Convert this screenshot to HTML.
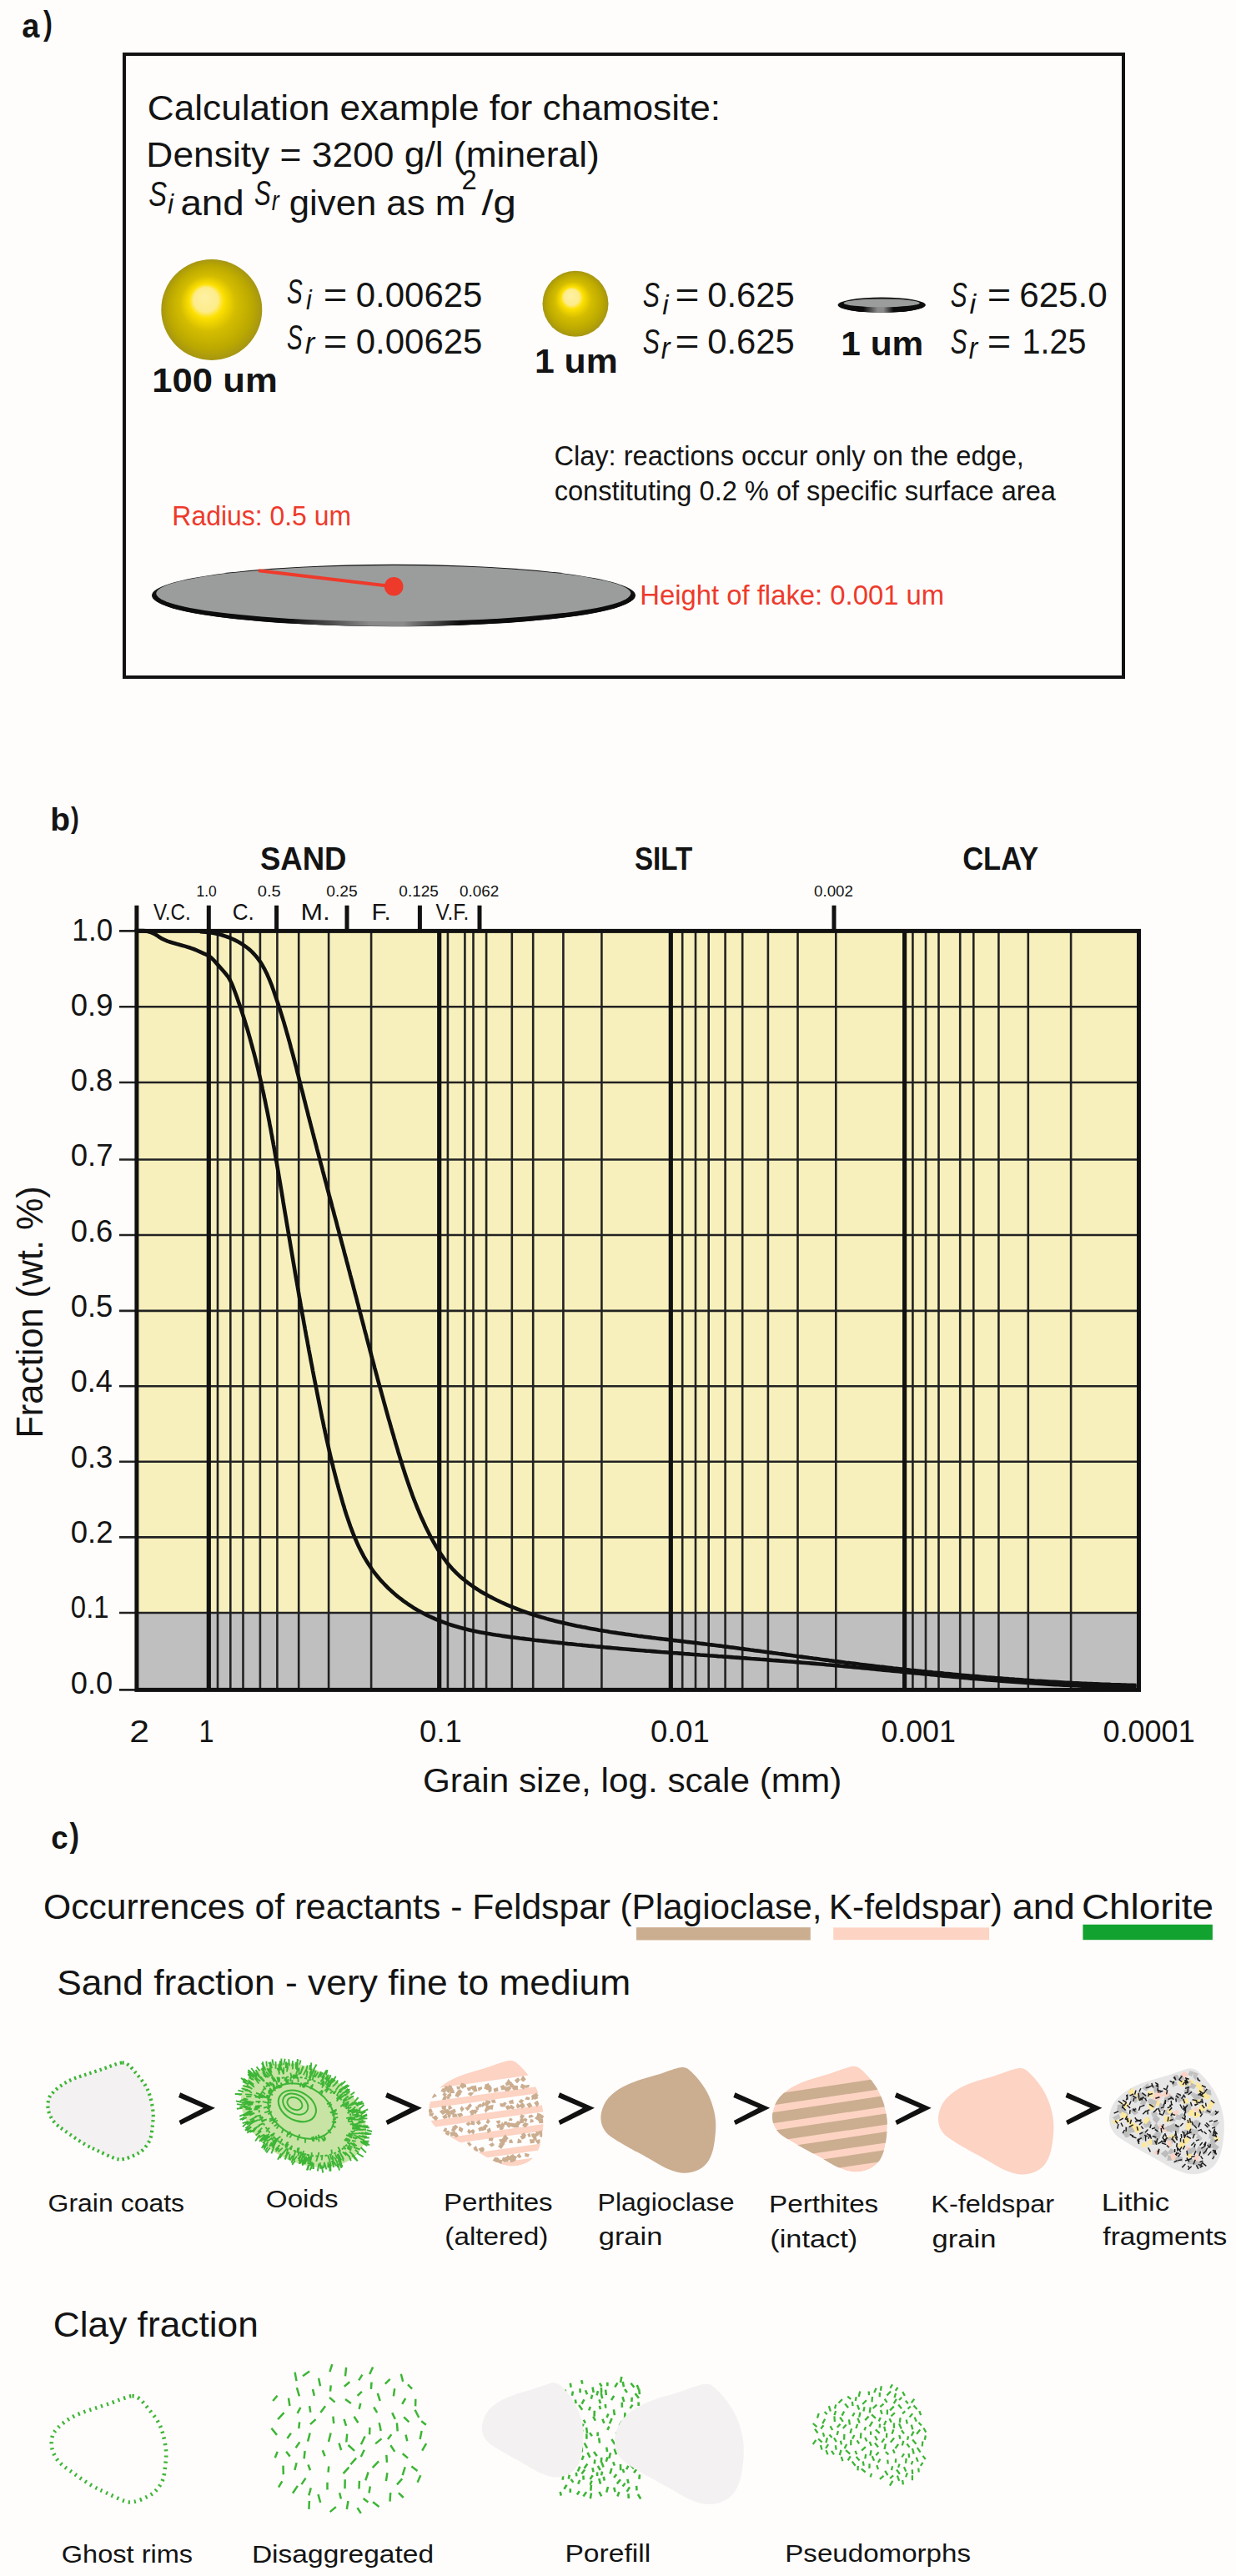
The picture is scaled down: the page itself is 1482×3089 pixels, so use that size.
<!DOCTYPE html>
<html><head><meta charset="utf-8"><title>Figure</title>
<style>html,body{margin:0;padding:0;background:#fefdfb;}svg{display:block;}text{font-family:"Liberation Sans",sans-serif;}</style>
</head><body>
<svg width="1482" height="3089" viewBox="0 0 1482 3089" font-family="Liberation Sans, sans-serif" fill="#141414"><text x="26.23" y="44.52" font-size="40.41" font-weight="bold" textLength="21.13" lengthAdjust="spacingAndGlyphs">a</text>
<text x="51.90" y="42.11" font-size="40.70" font-weight="bold" textLength="10.89" lengthAdjust="spacingAndGlyphs">)</text>
<rect x="149" y="65" width="1198" height="747" fill="none" stroke="#121212" stroke-width="4"/>
<text x="176.82" y="144.00" font-size="43" textLength="687.24" lengthAdjust="spacingAndGlyphs">Calculation example for chamosite:</text>
<text x="175.39" y="200.00" font-size="43" textLength="543.42" lengthAdjust="spacingAndGlyphs">Density = 3200 g/l (mineral)</text>
<text x="178.35" y="247.00" font-size="43" font-style="italic" textLength="21.78" lengthAdjust="spacingAndGlyphs">S</text>
<text x="201.11" y="255.80" font-size="33" font-style="italic" textLength="7.12" lengthAdjust="spacingAndGlyphs">i</text>
<text x="216.41" y="257.70" font-size="43" textLength="76.31" lengthAdjust="spacingAndGlyphs">and</text>
<text x="304.94" y="246.00" font-size="43" font-style="italic" textLength="19.76" lengthAdjust="spacingAndGlyphs">S</text>
<text x="325.81" y="252.00" font-size="34" font-style="italic" textLength="8.87" lengthAdjust="spacingAndGlyphs">r</text>
<text x="346.82" y="257.70" font-size="43" textLength="211.22" lengthAdjust="spacingAndGlyphs">given as m</text>
<text x="553.39" y="226.80" font-size="33" textLength="18.20" lengthAdjust="spacingAndGlyphs">2</text>
<text x="577.50" y="257.70" font-size="43" textLength="41.57" lengthAdjust="spacingAndGlyphs">/g</text>
<defs>
<radialGradient id="sph" cx="0.5" cy="0.5" r="0.5" fx="0.423" fy="0.37">
<stop offset="0" stop-color="#fdf1a4"/><stop offset="0.24" stop-color="#fdec8c"/><stop offset="0.34" stop-color="#fde000"/>
<stop offset="0.55" stop-color="#d4bd00"/><stop offset="0.82" stop-color="#bca900"/><stop offset="1" stop-color="#a69612"/>
</radialGradient>
<linearGradient id="rim" x1="0" x2="1" y1="0" y2="0">
<stop offset="0" stop-color="#0c0c0c"/><stop offset="0.28" stop-color="#0c0c0c"/><stop offset="0.45" stop-color="#8a8a8a"/>
<stop offset="0.52" stop-color="#8a8a8a"/><stop offset="0.64" stop-color="#0c0c0c"/><stop offset="1" stop-color="#0c0c0c"/>
</linearGradient>
</defs>
<circle cx="253.8" cy="371.4" r="60.5" fill="url(#sph)"/>
<circle cx="690" cy="364.2" r="39.5" fill="url(#sph)"/>
<ellipse cx="1057.2" cy="365.7" rx="52.6" ry="9.1" fill="#111"/>
<ellipse cx="1057.2" cy="367.2" rx="50" ry="7.5" fill="url(#rim)"/>
<ellipse cx="1057.2" cy="363.4" rx="45.6" ry="4.9" fill="#9b9d9c"/>
<text x="343.89" y="364.00" font-size="43" font-style="italic" textLength="18.70" lengthAdjust="spacingAndGlyphs">S</text>
<text x="366.96" y="370.60" font-size="34" font-style="italic" textLength="6.72" lengthAdjust="spacingAndGlyphs">i</text>
<text x="387.67" y="367.50" font-size="42" textLength="28.60" lengthAdjust="spacingAndGlyphs">=</text>
<text x="426.78" y="367.70" font-size="42" textLength="151.62" lengthAdjust="spacingAndGlyphs">0.00625</text>
<text x="343.89" y="419.00" font-size="43" font-style="italic" textLength="18.70" lengthAdjust="spacingAndGlyphs">S</text>
<text x="365.80" y="424.20" font-size="36" font-style="italic" textLength="11.49" lengthAdjust="spacingAndGlyphs">r</text>
<text x="387.67" y="423.50" font-size="42" textLength="28.60" lengthAdjust="spacingAndGlyphs">=</text>
<text x="426.78" y="424.00" font-size="42" textLength="151.62" lengthAdjust="spacingAndGlyphs">0.00625</text>
<text x="182.27" y="470.00" font-size="40" font-weight="bold" textLength="150.43" lengthAdjust="spacingAndGlyphs">100 um</text>
<text x="770.82" y="368.00" font-size="43" font-style="italic" textLength="20.18" lengthAdjust="spacingAndGlyphs">S</text>
<text x="794.32" y="376.60" font-size="34" font-style="italic" textLength="7.29" lengthAdjust="spacingAndGlyphs">i</text>
<text x="809.44" y="367.50" font-size="42" textLength="28.95" lengthAdjust="spacingAndGlyphs">=</text>
<text x="848.18" y="368.00" font-size="42" textLength="104.54" lengthAdjust="spacingAndGlyphs">0.625</text>
<text x="770.82" y="424.00" font-size="43" font-style="italic" textLength="20.18" lengthAdjust="spacingAndGlyphs">S</text>
<text x="792.64" y="429.70" font-size="36" font-style="italic" textLength="10.73" lengthAdjust="spacingAndGlyphs">r</text>
<text x="809.44" y="424.00" font-size="42" textLength="28.95" lengthAdjust="spacingAndGlyphs">=</text>
<text x="848.18" y="424.20" font-size="42" textLength="104.54" lengthAdjust="spacingAndGlyphs">0.625</text>
<text x="640.96" y="446.50" font-size="41" font-weight="bold" textLength="99.71" lengthAdjust="spacingAndGlyphs">1 um</text>
<text x="1139.63" y="368.00" font-size="43" font-style="italic" textLength="19.86" lengthAdjust="spacingAndGlyphs">S</text>
<text x="1162.49" y="376.00" font-size="34" font-style="italic" textLength="7.67" lengthAdjust="spacingAndGlyphs">i</text>
<text x="1183.68" y="368.00" font-size="42" textLength="28.48" lengthAdjust="spacingAndGlyphs">=</text>
<text x="1222.16" y="368.00" font-size="42" textLength="105.65" lengthAdjust="spacingAndGlyphs">625.0</text>
<text x="1139.63" y="423.60" font-size="43" font-style="italic" textLength="19.86" lengthAdjust="spacingAndGlyphs">S</text>
<text x="1161.76" y="429.60" font-size="36" font-style="italic" textLength="10.45" lengthAdjust="spacingAndGlyphs">r</text>
<text x="1183.68" y="424.00" font-size="42" textLength="28.48" lengthAdjust="spacingAndGlyphs">=</text>
<text x="1225.57" y="424.00" font-size="42" textLength="76.78" lengthAdjust="spacingAndGlyphs">1.25</text>
<text x="1008.29" y="426.00" font-size="41" font-weight="bold" textLength="98.97" lengthAdjust="spacingAndGlyphs">1 um</text>
<text x="664.40" y="558.00" font-size="33" textLength="563.44" lengthAdjust="spacingAndGlyphs">Clay: reactions occur only on the edge,</text>
<text x="664.64" y="600.00" font-size="33" textLength="601.35" lengthAdjust="spacingAndGlyphs">constituting 0.2 % of specific surface area</text>
<text x="206.34" y="630.00" font-size="33" fill="#ee3a2b" textLength="214.66" lengthAdjust="spacingAndGlyphs">Radius: 0.5 um</text>
<text x="767.27" y="725.00" font-size="33" fill="#ee3a2b" textLength="364.86" lengthAdjust="spacingAndGlyphs">Height of flake: 0.001 um</text>
<ellipse cx="472" cy="714" rx="290" ry="37.2" fill="#111"/>
<ellipse cx="472" cy="716" rx="287" ry="35" fill="url(#rim)"/>
<ellipse cx="471.8" cy="711.6" rx="284.5" ry="33.6" fill="#9b9d9c"/>
<line x1="310" y1="684.3" x2="471" y2="703.3" stroke="#ee3a2b" stroke-width="4"/>
<circle cx="472.2" cy="703.3" r="11.3" fill="#ee3a2b"/>
<text x="60.34" y="995.53" font-size="38.94" font-weight="bold" textLength="23.80" lengthAdjust="spacingAndGlyphs">b</text>
<text x="85.11" y="993.38" font-size="35.97" font-weight="bold" textLength="9.71" lengthAdjust="spacingAndGlyphs">)</text>
<rect x="163.9" y="1116.4" width="1201.6" height="817.5999999999999" fill="#f7f0bc"/>
<rect x="163.9" y="1934" width="1201.6" height="92.40000000000009" fill="#bfbfbf"/>
<path d="M261,1116.4V2026.4 M276.3,1116.4V2026.4 M291.5,1116.4V2026.4 M311.9,1116.4V2026.4 M332.4,1116.4V2026.4 M358.2,1116.4V2026.4 M394.1,1116.4V2026.4 M445.1,1116.4V2026.4 M536.9,1116.4V2026.4 M557.4,1116.4V2026.4 M567.5,1116.4V2026.4 M583.1,1116.4V2026.4 M613.8,1116.4V2026.4 M639.2,1116.4V2026.4 M675.4,1116.4V2026.4 M721.4,1116.4V2026.4 M818.2,1116.4V2026.4 M834,1116.4V2026.4 M849.7,1116.4V2026.4 M869.6,1116.4V2026.4 M890.2,1116.4V2026.4 M920.9,1116.4V2026.4 M956.5,1116.4V2026.4 M1002.3,1116.4V2026.4 M1094.4,1116.4V2026.4 M1110,1116.4V2026.4 M1125.5,1116.4V2026.4 M1151.2,1116.4V2026.4 M1167.3,1116.4V2026.4 M1197.4,1116.4V2026.4 M1232.8,1116.4V2026.4 M1284.1,1116.4V2026.4 M163.9,1934.0H1365.5 M163.9,1843.4H1365.5 M163.9,1752.8H1365.5 M163.9,1662.3H1365.5 M163.9,1571.9H1365.5 M163.9,1481.0H1365.5 M163.9,1390.5H1365.5 M163.9,1298.0H1365.5 M163.9,1207.3H1365.5 M143,2026.4H163.9 M143,1934.0H163.9 M143,1843.4H163.9 M143,1752.8H163.9 M143,1662.3H163.9 M143,1571.9H163.9 M143,1481.0H163.9 M143,1390.5H163.9 M143,1298.0H163.9 M143,1207.3H163.9 M143,1116.4H163.9" stroke="#222" stroke-width="2.6" fill="none"/>
<path d="M250.3,1116.4V2026.4 M526.7,1116.4V2026.4 M804.3,1116.4V2026.4 M1084.6,1116.4V2026.4" stroke="#111" stroke-width="5.2" fill="none"/>
<path d="M163.9,1085.8V1116.4 M250.3,1085.8V1116.4 M331.6,1085.8V1116.4 M416,1085.8V1116.4 M503.4,1085.8V1116.4 M575,1085.8V1116.4 M1000,1085.8V1116.4" stroke="#111" stroke-width="5" fill="none"/>
<rect x="163.9" y="1116.4" width="1201.6" height="910.0" fill="none" stroke="#111" stroke-width="5"/>
<path d="M164.0,1116.4 L167.6,1116.0 L171.2,1116.0 L174.9,1116.4 L178.4,1117.2 L181.8,1118.3 L185.1,1119.8 L188.2,1121.7 L191.2,1123.8 L194.3,1125.7 L197.5,1127.2 L200.9,1128.6 L204.3,1129.7 L207.8,1130.8 L211.3,1131.8 L214.8,1132.7 L218.3,1133.7 L221.7,1134.6 L225.2,1135.7 L228.6,1136.8 L232.0,1138.0 L235.4,1139.4 L238.7,1140.8 L242.0,1142.3 L245.3,1143.8 L248.6,1145.4 L251.7,1147.3 L254.4,1149.6 L257.0,1152.2 L259.4,1154.9 L261.8,1157.6 L264.2,1160.3 L266.6,1163.0 L269.0,1165.8 L271.3,1168.5 L273.5,1171.4 L275.4,1174.5 L277.0,1177.7 L278.5,1181.0 L279.8,1184.4 L281.1,1187.8 L282.4,1191.2 L283.6,1194.6 L284.8,1198.0 L286.0,1201.4 L287.2,1204.8 L288.4,1208.3 L289.5,1211.7 L290.6,1215.1 L291.7,1218.5 L292.8,1222.0 L293.9,1225.4 L294.9,1228.8 L296.0,1232.3 L297.0,1235.7 L298.0,1239.2 L299.0,1242.7 L300.0,1246.1 L300.9,1249.6 L301.9,1253.1 L302.8,1256.6 L303.7,1260.0 L304.7,1263.5 L305.6,1267.0 L306.5,1270.5 L307.3,1274.0 L308.2,1277.5 L309.1,1281.0 L309.9,1284.5 L310.7,1288.1 L311.6,1291.6 L312.4,1295.1 L313.2,1298.6 L314.0,1302.1 L314.7,1305.7 L315.5,1309.2 L316.3,1312.7 L317.0,1316.3 L317.8,1319.8 L318.5,1323.4 L319.2,1326.9 L320.0,1330.5 L320.7,1334.0 L321.4,1337.6 L322.1,1341.1 L322.8,1344.7 L323.4,1348.2 L324.1,1351.8 L324.8,1355.3 L325.4,1358.9 L326.1,1362.4 L326.7,1366.0 L327.4,1369.6 L328.0,1373.1 L328.7,1376.7 L329.3,1380.3 L329.9,1383.8 L330.5,1387.4 L331.1,1391.0 L331.8,1394.5 L332.4,1398.1 L333.0,1401.7 L333.6,1405.2 L334.2,1408.8 L334.8,1412.4 L335.4,1415.9 L336.0,1419.5 L336.6,1423.1 L337.2,1426.6 L337.8,1430.2 L338.4,1433.8 L339.0,1437.3 L339.5,1440.9 L340.1,1444.4 L340.7,1448.0 L341.3,1451.6 L341.9,1455.1 L342.5,1458.7 L343.1,1462.2 L343.7,1465.8 L344.3,1469.4 L344.9,1472.9 L345.5,1476.5 L346.1,1480.0 L346.7,1483.6 L347.3,1487.1 L347.9,1490.7 L348.5,1494.3 L349.1,1497.8 L349.7,1501.4 L350.3,1504.9 L350.9,1508.5 L351.5,1512.1 L352.1,1515.6 L352.7,1519.2 L353.3,1522.7 L353.9,1526.3 L354.5,1529.9 L355.1,1533.4 L355.8,1537.0 L356.4,1540.5 L357.0,1544.1 L357.6,1547.7 L358.2,1551.2 L358.8,1554.8 L359.5,1558.4 L360.1,1561.9 L360.7,1565.5 L361.4,1569.1 L362.0,1572.6 L362.6,1576.2 L363.3,1579.8 L363.9,1583.4 L364.5,1586.9 L365.2,1590.5 L365.8,1594.1 L366.5,1597.7 L367.1,1601.2 L367.8,1604.8 L368.5,1608.4 L369.1,1611.9 L369.8,1615.5 L370.4,1619.1 L371.1,1622.7 L371.8,1626.2 L372.4,1629.8 L373.1,1633.4 L373.8,1636.9 L374.5,1640.5 L375.1,1644.1 L375.8,1647.6 L376.5,1651.2 L377.2,1654.7 L377.9,1658.3 L378.6,1661.8 L379.3,1665.4 L380.0,1668.9 L380.7,1672.5 L381.4,1676.0 L382.1,1679.5 L382.8,1683.1 L383.5,1686.6 L384.2,1690.1 L384.9,1693.6 L385.6,1697.2 L386.3,1700.7 L387.1,1704.2 L387.8,1707.7 L388.5,1711.2 L389.3,1714.7 L390.0,1718.2 L390.8,1721.7 L391.5,1725.2 L392.3,1728.7 L393.1,1732.2 L393.9,1735.7 L394.7,1739.2 L395.5,1742.7 L396.3,1746.2 L397.1,1749.6 L397.9,1753.1 L398.8,1756.6 L399.6,1760.1 L400.5,1763.6 L401.4,1767.1 L402.3,1770.6 L403.2,1774.1 L404.1,1777.6 L405.1,1781.1 L406.0,1784.6 L407.0,1788.1 L408.0,1791.6 L409.0,1795.1 L410.0,1798.7 L411.0,1802.2 L412.1,1805.7 L413.1,1809.2 L414.2,1812.7 L415.3,1816.2 L416.5,1819.7 L417.7,1823.2 L418.9,1826.7 L420.1,1830.2 L421.4,1833.6 L422.7,1837.1 L424.0,1840.5 L425.4,1843.9 L426.9,1847.2 L428.3,1850.6 L429.9,1853.9 L431.5,1857.2 L433.1,1860.4 L434.8,1863.6 L436.5,1866.8 L438.3,1869.9 L440.2,1873.0 L442.1,1876.0 L444.1,1879.0 L446.1,1882.0 L448.2,1884.9 L450.4,1887.7 L452.7,1890.5 L455.0,1893.2 L457.3,1895.9 L459.8,1898.5 L462.3,1901.1 L464.8,1903.7 L467.4,1906.1 L470.0,1908.5 L472.7,1910.9 L475.4,1913.2 L478.2,1915.5 L481.1,1917.7 L483.9,1919.8 L486.9,1921.9 L489.8,1924.0 L492.8,1925.9 L495.8,1927.9 L498.9,1929.7 L502.0,1931.6 L505.2,1933.3 L508.3,1935.0 L511.5,1936.6 L514.8,1938.2 L518.0,1939.7 L521.3,1941.2 L524.6,1942.6 L528.0,1943.9 L531.3,1945.2 L534.7,1946.4 L538.1,1947.6 L541.5,1948.7 L544.9,1949.8 L548.4,1950.8 L551.8,1951.8 L555.3,1952.7 L558.8,1953.6 L562.3,1954.4 L565.8,1955.2 L569.4,1956.0 L572.9,1956.7 L576.5,1957.4 L580.0,1958.1 L583.6,1958.7 L587.2,1959.3 L590.8,1959.9 L594.4,1960.5 L598.0,1961.0 L601.6,1961.6 L605.2,1962.1 L608.8,1962.6 L612.4,1963.1 L616.0,1963.5 L619.7,1964.0 L623.3,1964.5 L626.9,1964.9 L630.5,1965.4 L634.1,1965.8 L637.7,1966.2 L641.4,1966.7 L645.0,1967.1 L648.6,1967.5 L652.2,1967.9 L655.8,1968.3 L659.4,1968.7 L663.0,1969.1 L666.6,1969.5 L670.2,1969.9 L673.9,1970.3 L677.5,1970.7 L681.1,1971.1 L684.7,1971.4 L688.3,1971.8 L691.9,1972.2 L695.5,1972.5 L699.1,1972.9 L702.7,1973.2 L706.3,1973.6 L709.9,1973.9 L713.6,1974.3 L717.2,1974.6 L720.8,1974.9 L724.4,1975.3 L728.0,1975.6 L731.6,1975.9 L735.2,1976.2 L738.8,1976.5 L742.4,1976.9 L746.0,1977.2 L749.6,1977.5 L753.2,1977.8 L756.8,1978.1 L760.4,1978.4 L764.0,1978.7 L767.6,1979.0 L771.2,1979.3 L774.8,1979.6 L778.4,1979.8 L782.0,1980.1 L785.6,1980.4 L789.3,1980.7 L792.9,1981.0 L796.5,1981.2 L800.1,1981.5 L803.7,1981.8 L807.3,1982.1 L810.9,1982.3 L814.5,1982.6 L818.1,1982.9 L821.7,1983.2 L825.3,1983.4 L828.9,1983.7 L832.5,1984.0 L836.1,1984.2 L839.7,1984.5 L843.3,1984.7 L846.9,1985.0 L850.5,1985.3 L854.1,1985.5 L857.7,1985.8 L861.3,1986.1 L864.9,1986.3 L868.5,1986.6 L872.1,1986.8 L875.7,1987.1 L879.3,1987.4 L882.9,1987.6 L886.5,1987.9 L890.1,1988.2 L893.7,1988.4 L897.3,1988.7 L900.9,1989.0 L904.5,1989.2 L908.1,1989.5 L911.7,1989.8 L915.3,1990.0 L918.9,1990.3 L922.5,1990.6 L926.1,1990.9 L929.7,1991.1 L933.3,1991.4 L936.9,1991.7 L940.5,1992.0 L944.1,1992.3 L947.7,1992.5 L951.3,1992.8 L954.9,1993.1 L958.5,1993.4 L962.1,1993.7 L965.7,1994.0 L969.3,1994.3 L972.9,1994.6 L976.5,1994.9 L980.1,1995.2 L983.7,1995.5 L987.3,1995.8 L990.9,1996.2 L994.5,1996.5 L998.1,1996.8 L1001.7,1997.1 L1005.3,1997.4 L1008.9,1997.8 L1012.5,1998.1 L1016.1,1998.4 L1019.7,1998.8 L1023.3,1999.1 L1026.9,1999.5 L1030.5,1999.8 L1034.2,2000.1 L1037.8,2000.5 L1041.4,2000.8 L1045.0,2001.2 L1048.6,2001.5 L1052.2,2001.9 L1055.8,2002.2 L1059.4,2002.6 L1063.0,2002.9 L1066.6,2003.3 L1070.2,2003.6 L1073.8,2004.0 L1077.4,2004.3 L1081.0,2004.7 L1084.6,2005.0 L1088.2,2005.4 L1091.8,2005.7 L1095.4,2006.1 L1099.0,2006.4 L1102.7,2006.8 L1106.3,2007.1 L1109.9,2007.5 L1113.5,2007.8 L1117.1,2008.2 L1120.7,2008.5 L1124.3,2008.9 L1127.9,2009.2 L1131.5,2009.6 L1135.1,2009.9 L1138.7,2010.2 L1142.3,2010.6 L1145.9,2010.9 L1149.5,2011.2 L1153.2,2011.6 L1156.8,2011.9 L1160.4,2012.2 L1164.0,2012.6 L1167.6,2012.9 L1171.2,2013.2 L1174.8,2013.5 L1178.4,2013.8 L1182.0,2014.1 L1185.6,2014.4 L1189.2,2014.7 L1192.8,2015.0 L1196.5,2015.3 L1200.1,2015.6 L1203.7,2015.9 L1207.3,2016.2 L1210.9,2016.5 L1214.5,2016.7 L1218.1,2017.0 L1221.7,2017.3 L1225.3,2017.5 L1228.9,2017.8 L1232.5,2018.0 L1236.2,2018.3 L1239.8,2018.5 L1243.4,2018.8 L1247.0,2019.0 L1250.6,2019.2 L1254.2,2019.4 L1257.8,2019.7 L1261.4,2019.9 L1265.0,2020.1 L1268.6,2020.3 L1272.3,2020.5 L1275.9,2020.6 L1279.5,2020.8 L1283.1,2021.0 L1286.7,2021.2 L1290.3,2021.3 L1293.9,2021.5 L1297.5,2021.6 L1301.1,2021.8 L1304.7,2021.9 L1308.4,2022.0 L1312.0,2022.1 L1315.6,2022.2 L1319.2,2022.3 L1322.8,2022.4 L1326.4,2022.5 L1330.0,2022.6 L1333.6,2022.7 L1337.2,2022.7 L1340.9,2022.8 L1344.5,2022.8 L1348.1,2022.9 L1351.7,2022.9 L1355.3,2022.9 L1358.9,2022.9 L1362.5,2022.9" stroke="#111" stroke-width="4.6" fill="none" stroke-linejoin="round"/>
<path d="M239.8,1117.3 L243.2,1117.4 L246.5,1117.7 L249.9,1118.0 L253.3,1118.5 L256.6,1119.1 L260.0,1119.8 L263.4,1120.6 L266.7,1121.5 L270.0,1122.6 L273.3,1123.7 L276.5,1125.0 L279.7,1126.4 L282.8,1127.9 L285.9,1129.5 L288.8,1131.2 L291.7,1133.0 L294.5,1135.0 L297.1,1137.0 L299.7,1139.1 L302.1,1141.4 L304.4,1143.8 L306.6,1146.2 L308.7,1148.8 L310.6,1151.4 L312.5,1154.1 L314.3,1156.9 L315.9,1159.8 L317.5,1162.7 L319.0,1165.7 L320.5,1168.8 L321.8,1171.8 L323.2,1175.0 L324.4,1178.1 L325.7,1181.3 L326.8,1184.5 L328.0,1187.7 L329.1,1191.0 L330.2,1194.2 L331.3,1197.4 L332.4,1200.7 L333.5,1203.9 L334.5,1207.2 L335.6,1210.4 L336.6,1213.7 L337.6,1216.9 L338.6,1220.2 L339.6,1223.4 L340.6,1226.7 L341.5,1229.9 L342.5,1233.2 L343.4,1236.5 L344.3,1239.7 L345.3,1243.0 L346.2,1246.3 L347.1,1249.5 L348.0,1252.8 L348.8,1256.1 L349.7,1259.3 L350.6,1262.6 L351.5,1265.9 L352.3,1269.2 L353.2,1272.4 L354.0,1275.7 L354.9,1279.0 L355.7,1282.3 L356.5,1285.6 L357.4,1288.8 L358.2,1292.1 L359.0,1295.4 L359.9,1298.7 L360.7,1302.0 L361.5,1305.3 L362.4,1308.5 L363.2,1311.8 L364.0,1315.1 L364.8,1318.4 L365.7,1321.7 L366.5,1325.0 L367.3,1328.2 L368.2,1331.5 L369.0,1334.8 L369.8,1338.1 L370.7,1341.4 L371.5,1344.7 L372.4,1348.0 L373.2,1351.2 L374.1,1354.5 L374.9,1357.8 L375.8,1361.1 L376.6,1364.4 L377.5,1367.7 L378.3,1370.9 L379.2,1374.2 L380.0,1377.5 L380.9,1380.8 L381.8,1384.1 L382.6,1387.4 L383.5,1390.7 L384.3,1393.9 L385.2,1397.2 L386.1,1400.5 L386.9,1403.8 L387.8,1407.1 L388.7,1410.4 L389.5,1413.7 L390.4,1416.9 L391.3,1420.2 L392.1,1423.5 L393.0,1426.8 L393.9,1430.1 L394.7,1433.4 L395.6,1436.6 L396.5,1439.9 L397.4,1443.2 L398.2,1446.5 L399.1,1449.8 L400.0,1453.1 L400.8,1456.4 L401.7,1459.6 L402.6,1462.9 L403.5,1466.2 L404.3,1469.5 L405.2,1472.8 L406.1,1476.0 L406.9,1479.3 L407.8,1482.6 L408.7,1485.9 L409.5,1489.2 L410.4,1492.4 L411.3,1495.7 L412.2,1499.0 L413.0,1502.3 L413.9,1505.6 L414.8,1508.8 L415.6,1512.1 L416.5,1515.4 L417.4,1518.7 L418.2,1522.0 L419.1,1525.2 L419.9,1528.5 L420.8,1531.8 L421.7,1535.1 L422.5,1538.3 L423.4,1541.6 L424.2,1544.9 L425.1,1548.2 L425.9,1551.4 L426.8,1554.7 L427.7,1558.0 L428.5,1561.3 L429.4,1564.5 L430.2,1567.8 L431.1,1571.1 L431.9,1574.4 L432.8,1577.6 L433.6,1580.9 L434.5,1584.2 L435.3,1587.4 L436.2,1590.7 L437.0,1594.0 L437.9,1597.3 L438.8,1600.5 L439.6,1603.8 L440.5,1607.1 L441.3,1610.3 L442.2,1613.6 L443.1,1616.9 L443.9,1620.1 L444.8,1623.4 L445.6,1626.7 L446.5,1630.0 L447.4,1633.2 L448.3,1636.5 L449.1,1639.8 L450.0,1643.0 L450.9,1646.3 L451.8,1649.6 L452.6,1652.8 L453.5,1656.1 L454.4,1659.4 L455.3,1662.7 L456.2,1665.9 L457.1,1669.2 L458.0,1672.5 L458.9,1675.7 L459.8,1679.0 L460.7,1682.3 L461.6,1685.5 L462.5,1688.8 L463.4,1692.1 L464.3,1695.4 L465.2,1698.6 L466.1,1701.9 L467.1,1705.2 L468.0,1708.4 L468.9,1711.7 L469.9,1715.0 L470.8,1718.3 L471.8,1721.5 L472.7,1724.8 L473.7,1728.1 L474.6,1731.3 L475.6,1734.6 L476.6,1737.9 L477.5,1741.2 L478.5,1744.4 L479.5,1747.7 L480.5,1751.0 L481.5,1754.2 L482.5,1757.5 L483.5,1760.7 L484.6,1764.0 L485.6,1767.2 L486.7,1770.5 L487.8,1773.7 L488.9,1776.9 L490.0,1780.2 L491.1,1783.4 L492.2,1786.6 L493.4,1789.8 L494.5,1793.0 L495.7,1796.2 L496.9,1799.3 L498.2,1802.5 L499.4,1805.7 L500.7,1808.8 L502.0,1811.9 L503.3,1815.1 L504.6,1818.2 L506.0,1821.3 L507.4,1824.3 L508.8,1827.4 L510.2,1830.5 L511.7,1833.5 L513.2,1836.5 L514.7,1839.5 L516.2,1842.5 L517.8,1845.5 L519.4,1848.4 L521.1,1851.4 L522.8,1854.3 L524.5,1857.2 L526.3,1860.0 L528.1,1862.8 L530.0,1865.6 L531.9,1868.3 L533.9,1871.0 L535.9,1873.7 L538.0,1876.3 L540.2,1878.8 L542.4,1881.3 L544.7,1883.7 L547.1,1886.1 L549.5,1888.4 L552.0,1890.7 L554.6,1892.9 L557.2,1895.0 L559.9,1897.1 L562.6,1899.2 L565.4,1901.2 L568.2,1903.1 L571.1,1905.0 L574.0,1906.9 L576.9,1908.7 L579.9,1910.4 L582.9,1912.1 L585.9,1913.8 L589.0,1915.4 L592.1,1917.0 L595.1,1918.5 L598.3,1920.0 L601.4,1921.5 L604.5,1922.9 L607.7,1924.3 L610.8,1925.6 L614.0,1926.9 L617.1,1928.2 L620.3,1929.5 L623.5,1930.7 L626.7,1931.8 L629.8,1933.0 L633.0,1934.1 L636.2,1935.2 L639.5,1936.2 L642.7,1937.2 L645.9,1938.2 L649.1,1939.2 L652.4,1940.1 L655.6,1941.1 L658.8,1942.0 L662.1,1942.8 L665.4,1943.7 L668.6,1944.5 L671.9,1945.3 L675.2,1946.1 L678.4,1946.8 L681.7,1947.6 L685.0,1948.3 L688.3,1949.0 L691.6,1949.7 L694.9,1950.3 L698.2,1951.0 L701.5,1951.6 L704.8,1952.3 L708.1,1952.9 L711.5,1953.5 L714.8,1954.1 L718.1,1954.7 L721.5,1955.2 L724.8,1955.8 L728.1,1956.3 L731.5,1956.9 L734.8,1957.4 L738.2,1957.9 L741.5,1958.4 L744.9,1958.9 L748.3,1959.4 L751.6,1959.9 L755.0,1960.3 L758.3,1960.8 L761.7,1961.2 L765.1,1961.7 L768.5,1962.1 L771.8,1962.6 L775.2,1963.0 L778.6,1963.4 L782.0,1963.9 L785.3,1964.3 L788.7,1964.7 L792.1,1965.1 L795.5,1965.5 L798.9,1965.9 L802.2,1966.3 L805.6,1966.7 L809.0,1967.1 L812.4,1967.5 L815.8,1967.9 L819.2,1968.3 L822.5,1968.7 L825.9,1969.1 L829.3,1969.5 L832.7,1969.9 L836.1,1970.3 L839.4,1970.7 L842.8,1971.1 L846.2,1971.5 L849.6,1972.0 L852.9,1972.4 L856.3,1972.8 L859.7,1973.2 L863.1,1973.6 L866.4,1974.1 L869.8,1974.5 L873.2,1974.9 L876.5,1975.4 L879.9,1975.8 L883.3,1976.2 L886.6,1976.7 L890.0,1977.1 L893.4,1977.6 L896.7,1978.0 L900.1,1978.5 L903.5,1978.9 L906.8,1979.4 L910.2,1979.8 L913.5,1980.3 L916.9,1980.7 L920.3,1981.2 L923.6,1981.6 L927.0,1982.1 L930.3,1982.5 L933.7,1983.0 L937.0,1983.4 L940.4,1983.9 L943.8,1984.4 L947.1,1984.8 L950.5,1985.3 L953.8,1985.7 L957.2,1986.2 L960.5,1986.6 L963.9,1987.1 L967.3,1987.5 L970.6,1988.0 L974.0,1988.4 L977.3,1988.9 L980.7,1989.3 L984.0,1989.8 L987.4,1990.2 L990.8,1990.6 L994.1,1991.1 L997.5,1991.5 L1000.8,1992.0 L1004.2,1992.4 L1007.6,1992.8 L1010.9,1993.2 L1014.3,1993.7 L1017.7,1994.1 L1021.0,1994.5 L1024.4,1994.9 L1027.7,1995.3 L1031.1,1995.8 L1034.5,1996.2 L1037.8,1996.6 L1041.2,1997.0 L1044.6,1997.4 L1048.0,1997.8 L1051.3,1998.2 L1054.7,1998.6 L1058.1,1998.9 L1061.4,1999.3 L1064.8,1999.7 L1068.2,2000.1 L1071.5,2000.5 L1074.9,2000.8 L1078.3,2001.2 L1081.7,2001.6 L1085.0,2002.0 L1088.4,2002.3 L1091.8,2002.7 L1095.2,2003.0 L1098.5,2003.4 L1101.9,2003.7 L1105.3,2004.1 L1108.7,2004.4 L1112.0,2004.8 L1115.4,2005.1 L1118.8,2005.5 L1122.2,2005.8 L1125.6,2006.1 L1128.9,2006.4 L1132.3,2006.8 L1135.7,2007.1 L1139.1,2007.4 L1142.5,2007.7 L1145.8,2008.0 L1149.2,2008.4 L1152.6,2008.7 L1156.0,2009.0 L1159.4,2009.3 L1162.7,2009.6 L1166.1,2009.8 L1169.5,2010.1 L1172.9,2010.4 L1176.3,2010.7 L1179.7,2011.0 L1183.0,2011.3 L1186.4,2011.5 L1189.8,2011.8 L1193.2,2012.1 L1196.6,2012.3 L1200.0,2012.6 L1203.4,2012.9 L1206.7,2013.1 L1210.1,2013.4 L1213.5,2013.6 L1216.9,2013.9 L1220.3,2014.1 L1223.7,2014.3 L1227.1,2014.6 L1230.4,2014.8 L1233.8,2015.0 L1237.2,2015.2 L1240.6,2015.5 L1244.0,2015.7 L1247.4,2015.9 L1250.8,2016.1 L1254.2,2016.3 L1257.5,2016.5 L1260.9,2016.7 L1264.3,2016.9 L1267.7,2017.1 L1271.1,2017.3 L1274.5,2017.5 L1277.9,2017.7 L1281.3,2017.8 L1284.6,2018.0 L1288.0,2018.2 L1291.4,2018.3 L1294.8,2018.5 L1298.2,2018.7 L1301.6,2018.8 L1305.0,2019.0 L1308.4,2019.1 L1311.7,2019.3 L1315.1,2019.4 L1318.5,2019.5 L1321.9,2019.7 L1325.3,2019.8 L1328.7,2019.9 L1332.1,2020.1 L1335.5,2020.2 L1338.9,2020.3 L1342.2,2020.4 L1345.6,2020.5 L1349.0,2020.6 L1352.4,2020.7 L1355.8,2020.8 L1359.2,2020.9 L1362.6,2021.0" stroke="#111" stroke-width="4.6" fill="none" stroke-linejoin="round"/>
<text x="311.92" y="1042.50" font-size="38" font-weight="bold" textLength="103.57" lengthAdjust="spacingAndGlyphs">SAND</text>
<text x="761.02" y="1042.50" font-size="38" font-weight="bold" textLength="69.32" lengthAdjust="spacingAndGlyphs">SILT</text>
<text x="1154.14" y="1042.50" font-size="38" font-weight="bold" textLength="90.89" lengthAdjust="spacingAndGlyphs">CLAY</text>
<text x="235.43" y="1075.00" font-size="17.5" textLength="24.27" lengthAdjust="spacingAndGlyphs">1.0</text>
<text x="308.78" y="1075.00" font-size="17.5" textLength="28.03" lengthAdjust="spacingAndGlyphs">0.5</text>
<text x="391.31" y="1075.00" font-size="17.5" textLength="37.44" lengthAdjust="spacingAndGlyphs">0.25</text>
<text x="478.32" y="1075.00" font-size="17.5" textLength="47.54" lengthAdjust="spacingAndGlyphs">0.125</text>
<text x="550.93" y="1075.00" font-size="17.5" textLength="47.26" lengthAdjust="spacingAndGlyphs">0.062</text>
<text x="976.03" y="1075.00" font-size="17.5" textLength="46.95" lengthAdjust="spacingAndGlyphs">0.002</text>
<text x="183.89" y="1103.00" font-size="28" textLength="44.88" lengthAdjust="spacingAndGlyphs">V.C.</text>
<text x="278.72" y="1103.00" font-size="28" textLength="26.11" lengthAdjust="spacingAndGlyphs">C.</text>
<text x="360.44" y="1103.00" font-size="28" textLength="35.38" lengthAdjust="spacingAndGlyphs">M.</text>
<text x="445.62" y="1103.00" font-size="28" textLength="23.06" lengthAdjust="spacingAndGlyphs">F.</text>
<text x="522.39" y="1103.00" font-size="28" textLength="39.82" lengthAdjust="spacingAndGlyphs">V.F.</text>
<text x="84.75" y="2030.50" font-size="36.3" textLength="50.47" lengthAdjust="spacingAndGlyphs">0.0</text>
<text x="84.87" y="1940.20" font-size="36.3" textLength="45.75" lengthAdjust="spacingAndGlyphs">0.1</text>
<text x="84.74" y="1849.90" font-size="36.3" textLength="50.87" lengthAdjust="spacingAndGlyphs">0.2</text>
<text x="84.74" y="1759.60" font-size="36.3" textLength="50.60" lengthAdjust="spacingAndGlyphs">0.3</text>
<text x="84.76" y="1669.30" font-size="36.3" textLength="50.08" lengthAdjust="spacingAndGlyphs">0.4</text>
<text x="84.74" y="1579.00" font-size="36.3" textLength="50.60" lengthAdjust="spacingAndGlyphs">0.5</text>
<text x="84.74" y="1488.70" font-size="36.3" textLength="50.60" lengthAdjust="spacingAndGlyphs">0.6</text>
<text x="84.74" y="1398.40" font-size="36.3" textLength="50.87" lengthAdjust="spacingAndGlyphs">0.7</text>
<text x="84.74" y="1308.10" font-size="36.3" textLength="50.60" lengthAdjust="spacingAndGlyphs">0.8</text>
<text x="84.74" y="1217.80" font-size="36.3" textLength="50.74" lengthAdjust="spacingAndGlyphs">0.9</text>
<text x="86.36" y="1127.50" font-size="36.3" textLength="48.81" lengthAdjust="spacingAndGlyphs">1.0</text>
<text x="155.32" y="2089.00" font-size="36" textLength="23.78" lengthAdjust="spacingAndGlyphs">2</text>
<text x="238.52" y="2089.00" font-size="36" textLength="18.08" lengthAdjust="spacingAndGlyphs">1</text>
<text x="503.11" y="2089.00" font-size="36" textLength="50.71" lengthAdjust="spacingAndGlyphs">0.1</text>
<text x="780.01" y="2089.00" font-size="36" textLength="70.83" lengthAdjust="spacingAndGlyphs">0.01</text>
<text x="1056.43" y="2089.00" font-size="36" textLength="89.47" lengthAdjust="spacingAndGlyphs">0.001</text>
<text x="1322.42" y="2089.00" font-size="36" textLength="110.32" lengthAdjust="spacingAndGlyphs">0.0001</text>
<text x="506.94" y="2148.50" font-size="41" textLength="502.30" lengthAdjust="spacingAndGlyphs">Grain size, log. scale (mm)</text>
<text transform="translate(51.4,1724.56) rotate(-90)" x="0" y="0" font-size="44" textLength="302.30" lengthAdjust="spacingAndGlyphs">Fraction (wt. %)</text>
<text x="61.22" y="2217.23" font-size="39.50" font-weight="bold" textLength="20.40" lengthAdjust="spacingAndGlyphs">c</text>
<text x="83.59" y="2215.31" font-size="40.70" font-weight="bold" textLength="11.49" lengthAdjust="spacingAndGlyphs">)</text>
<text x="52.02" y="2300.50" font-size="43" textLength="680.03" lengthAdjust="spacingAndGlyphs">Occurrences of reactants - Feldspar</text>
<text x="743.42" y="2300.50" font-size="43" textLength="242.12" lengthAdjust="spacingAndGlyphs">(Plagioclase,</text>
<text x="993.63" y="2300.50" font-size="43" textLength="208.32" lengthAdjust="spacingAndGlyphs">K-feldspar)</text>
<text x="1213.84" y="2300.50" font-size="43" textLength="75.03" lengthAdjust="spacingAndGlyphs">and</text>
<text x="1296.93" y="2300.50" font-size="43" textLength="158.22" lengthAdjust="spacingAndGlyphs">Chlorite</text>
<rect x="763" y="2311.2" width="208.8" height="15.3" fill="#cbad90"/>
<rect x="999.2" y="2311.4" width="186.9" height="14.8" fill="#fdd3c3"/>
<rect x="1298.4" y="2307.8" width="155.5" height="18.4" fill="#12a22f"/>
<text x="68.24" y="2392.40" font-size="43" textLength="687.95" lengthAdjust="spacingAndGlyphs">Sand fraction - very fine to medium</text>
<defs><path id="pick" d="M98.30,0.00 C101.32,0.22 102.65,0.48 106.10,3.30 C109.55,6.12 115.12,11.83 119.00,16.90 C122.88,21.97 126.58,27.67 129.40,33.70 C132.22,39.73 134.50,46.62 135.90,53.10 C137.30,59.58 138.02,65.05 137.80,72.60 C137.58,80.15 136.43,91.28 134.60,98.40 C132.77,105.52 130.25,110.98 126.80,115.30 C123.35,119.62 118.65,122.40 113.90,124.30 C109.15,126.20 103.92,127.13 98.30,126.70 C92.68,126.27 87.53,124.90 80.20,121.70 C72.87,118.50 64.00,112.88 54.30,107.50 C44.60,102.12 30.20,94.58 22.00,89.40 C13.80,84.22 8.77,81.37 5.10,76.40 C1.43,71.43 -0.22,65.63 0.00,59.60 C0.22,53.57 2.73,45.80 6.40,40.20 C10.07,34.60 16.17,29.88 22.00,26.00 C27.83,22.12 33.85,19.72 41.40,16.90 C48.95,14.08 59.53,11.58 67.30,9.10 C75.07,6.62 82.83,3.52 88.00,2.00 C93.17,0.48 95.28,-0.22 98.30,0.00Z"/><clipPath id="cpA"><use href="#pick" transform="translate(514,2470.8)"/></clipPath><clipPath id="cpI"><use href="#pick" transform="translate(926,2477.8)"/></clipPath><clipPath id="cpL"><use href="#pick" transform="translate(1330,2480.4)"/></clipPath></defs>
<path d="M146.30,2473.50 C149.33,2473.50 151.18,2473.95 154.20,2476.30 C157.22,2478.65 161.00,2483.45 164.40,2487.60 C167.80,2491.75 171.97,2496.67 174.60,2501.20 C177.23,2505.73 178.70,2509.50 180.20,2514.80 C181.70,2520.10 183.13,2527.52 183.60,2533.00 C184.07,2538.48 183.57,2542.42 183.00,2547.70 C182.43,2552.98 181.98,2559.82 180.20,2564.70 C178.42,2569.58 175.32,2573.78 172.30,2577.00 C169.28,2580.22 166.07,2582.00 162.10,2584.00 C158.13,2586.00 152.47,2588.27 148.50,2589.00 C144.53,2589.73 143.38,2590.00 138.30,2588.40 C133.22,2586.80 124.22,2582.32 118.00,2579.40 C111.78,2576.48 107.62,2574.87 101.00,2570.90 C94.38,2566.93 84.35,2560.03 78.30,2555.60 C72.25,2551.17 68.08,2548.45 64.70,2544.30 C61.32,2540.15 59.03,2535.25 58.00,2530.70 C56.97,2526.15 57.38,2520.78 58.50,2517.00 C59.62,2513.22 61.78,2511.00 64.70,2508.00 C67.62,2505.00 71.85,2501.63 76.00,2499.00 C80.15,2496.37 84.50,2494.28 89.60,2492.20 C94.70,2490.12 100.93,2488.38 106.60,2486.50 C112.27,2484.62 118.70,2482.60 123.60,2480.90 C128.50,2479.20 132.22,2477.53 136.00,2476.30 C139.78,2475.07 143.27,2473.50 146.30,2473.50Z" fill="#f3f1f1"/>
<path d="M146.30,2473.50 C149.33,2473.50 151.18,2473.95 154.20,2476.30 C157.22,2478.65 161.00,2483.45 164.40,2487.60 C167.80,2491.75 171.97,2496.67 174.60,2501.20 C177.23,2505.73 178.70,2509.50 180.20,2514.80 C181.70,2520.10 183.13,2527.52 183.60,2533.00 C184.07,2538.48 183.57,2542.42 183.00,2547.70 C182.43,2552.98 181.98,2559.82 180.20,2564.70 C178.42,2569.58 175.32,2573.78 172.30,2577.00 C169.28,2580.22 166.07,2582.00 162.10,2584.00 C158.13,2586.00 152.47,2588.27 148.50,2589.00 C144.53,2589.73 143.38,2590.00 138.30,2588.40 C133.22,2586.80 124.22,2582.32 118.00,2579.40 C111.78,2576.48 107.62,2574.87 101.00,2570.90 C94.38,2566.93 84.35,2560.03 78.30,2555.60 C72.25,2551.17 68.08,2548.45 64.70,2544.30 C61.32,2540.15 59.03,2535.25 58.00,2530.70 C56.97,2526.15 57.38,2520.78 58.50,2517.00 C59.62,2513.22 61.78,2511.00 64.70,2508.00 C67.62,2505.00 71.85,2501.63 76.00,2499.00 C80.15,2496.37 84.50,2494.28 89.60,2492.20 C94.70,2490.12 100.93,2488.38 106.60,2486.50 C112.27,2484.62 118.70,2482.60 123.60,2480.90 C128.50,2479.20 132.22,2477.53 136.00,2476.30 C139.78,2475.07 143.27,2473.50 146.30,2473.50Z" fill="none" stroke="#3db536" stroke-width="4.2" stroke-dasharray="2.4 4.0"/>
<path d="M146.30,2473.50 C149.33,2473.50 151.18,2473.95 154.20,2476.30 C157.22,2478.65 161.00,2483.45 164.40,2487.60 C167.80,2491.75 171.97,2496.67 174.60,2501.20 C177.23,2505.73 178.70,2509.50 180.20,2514.80 C181.70,2520.10 183.13,2527.52 183.60,2533.00 C184.07,2538.48 183.57,2542.42 183.00,2547.70 C182.43,2552.98 181.98,2559.82 180.20,2564.70 C178.42,2569.58 175.32,2573.78 172.30,2577.00 C169.28,2580.22 166.07,2582.00 162.10,2584.00 C158.13,2586.00 152.47,2588.27 148.50,2589.00 C144.53,2589.73 143.38,2590.00 138.30,2588.40 C133.22,2586.80 124.22,2582.32 118.00,2579.40 C111.78,2576.48 107.62,2574.87 101.00,2570.90 C94.38,2566.93 84.35,2560.03 78.30,2555.60 C72.25,2551.17 68.08,2548.45 64.70,2544.30 C61.32,2540.15 59.03,2535.25 58.00,2530.70 C56.97,2526.15 57.38,2520.78 58.50,2517.00 C59.62,2513.22 61.78,2511.00 64.70,2508.00 C67.62,2505.00 71.85,2501.63 76.00,2499.00 C80.15,2496.37 84.50,2494.28 89.60,2492.20 C94.70,2490.12 100.93,2488.38 106.60,2486.50 C112.27,2484.62 118.70,2482.60 123.60,2480.90 C128.50,2479.20 132.22,2477.53 136.00,2476.30 C139.78,2475.07 143.27,2473.50 146.30,2473.50Z" transform="translate(-0.67,161.28) scale(1.0876,1.0964)" fill="none" stroke="#3db536" stroke-width="4.23" stroke-dasharray="2.02 4.60"/>
<polygon points="216.2,2509.3 257.9,2527.8 216.7,2547.9 214.5,2543.0 243.8,2527.8 214.0,2514.9" fill="#111"/>
<polygon points="464.2,2509.3 505.9,2527.8 464.7,2547.9 462.5,2543.0 491.8,2527.8 462.0,2514.9" fill="#111"/>
<polygon points="671.2,2509.3 712.9,2527.8 671.7,2547.9 669.5,2543.0 698.8,2527.8 669.0,2514.9" fill="#111"/>
<polygon points="881.5,2509.3 923.2,2527.8 882.0,2547.9 879.8,2543.0 909.1,2527.8 879.3,2514.9" fill="#111"/>
<polygon points="1075.0,2509.3 1116.7,2527.8 1075.5,2547.9 1073.3,2543.0 1102.6,2527.8 1072.8,2514.9" fill="#111"/>
<polygon points="1279.7,2509.3 1321.4,2527.8 1280.2,2547.9 1278.0,2543.0 1307.3,2527.8 1277.5,2514.9" fill="#111"/>
<use href="#pick" transform="translate(720.4,2479)" fill="#cbad90"/>
<use href="#pick" transform="translate(1125,2480) scale(1.004,1.006)" fill="#fdd3c3"/>
<g clip-path="url(#cpI)"><use href="#pick" transform="translate(926,2477.8)" fill="#fdd3c3"/><g transform="rotate(-8.5 995 2551.2)"><rect x="795" y="2501.70" width="400" height="13" fill="#cbad90"/><rect x="795" y="2523.20" width="400" height="13" fill="#cbad90"/><rect x="795" y="2544.70" width="400" height="13" fill="#cbad90"/><rect x="795" y="2566.20" width="400" height="13" fill="#cbad90"/><rect x="795" y="2587.70" width="400" height="13" fill="#cbad90"/></g></g>
<g clip-path="url(#cpA)"><use href="#pick" transform="translate(514,2470.8)" fill="#fdd3c3"/><g transform="rotate(-8 588.5 2502.5)"><rect x="388.5" y="2495.10" width="400" height="14.8" fill="#fefefe"/><rect x="388.5" y="2517.90" width="400" height="14.8" fill="#fefefe"/><rect x="388.5" y="2540.70" width="400" height="14.8" fill="#fefefe"/><rect x="388.5" y="2563.50" width="400" height="14.8" fill="#fefefe"/></g><g transform="rotate(-8 588.5 2590.7)"><rect x="388.5" y="2586.70" width="400" height="8" fill="#fefefe"/></g></g>
<g clip-path="url(#cpA)" fill="#cbad90"><polygon points="547.3,2501.7 551.9,2502.1 551.4,2505.8 548.0,2505.3"/><polygon points="536.3,2510.9 533.3,2514.3 530.4,2512.0 531.9,2509.6"/><polygon points="549.7,2515.2 545.5,2513.6 546.7,2510.1 551.3,2509.7"/><polygon points="565.6,2501.7 570.7,2500.4 571.4,2504.3 566.1,2506.5"/><polygon points="623.4,2494.3 620.3,2498.1 618.0,2495.8 620.4,2491.7"/><polygon points="592.6,2509.1 591.5,2504.7 596.8,2502.9 597.7,2507.5"/><polygon points="608.3,2502.8 609.4,2507.0 606.3,2508.2 604.9,2505.3"/><polygon points="627.3,2496.6 623.9,2493.7 627.0,2488.7 630.8,2493.5"/><polygon points="539.2,2510.3 540.1,2506.8 543.9,2505.5 545.2,2510.1"/><polygon points="536.3,2505.5 538.4,2500.0 542.2,2501.8 540.1,2505.8"/><polygon points="564.1,2506.7 561.3,2507.6 559.5,2503.8 563.1,2502.7"/><polygon points="558.7,2499.6 559.1,2503.0 555.0,2503.4 554.5,2497.7"/><polygon points="578.1,2505.0 573.7,2507.8 572.8,2503.5 577.7,2502.0"/><polygon points="524.0,2513.4 518.4,2516.0 516.8,2512.6 519.7,2508.9"/><polygon points="586.0,2509.7 584.6,2503.1 589.7,2503.1 589.4,2507.7"/><polygon points="586.8,2501.0 583.8,2505.1 581.1,2499.9 585.9,2497.7"/><polygon points="534.0,2510.2 528.3,2507.4 531.0,2503.8 534.7,2506.8"/><polygon points="610.8,2501.4 613.4,2504.3 609.3,2508.2 606.9,2502.8"/><polygon points="563.7,2508.7 568.4,2509.6 564.6,2513.8 560.6,2510.9"/><polygon points="605.7,2497.9 610.2,2495.1 612.0,2499.3 607.1,2501.8"/><polygon points="537.7,2510.0 535.1,2507.5 538.4,2504.2 541.2,2506.9"/><polygon points="589.3,2503.2 587.5,2506.8 583.4,2503.4 587.6,2499.8"/><polygon points="548.7,2506.7 552.0,2505.4 554.7,2508.7 549.8,2511.2"/><polygon points="623.6,2502.9 625.6,2498.6 629.9,2500.7 628.3,2505.8"/><polygon points="619.1,2501.4 616.4,2507.0 614.1,2504.6 615.2,2500.8"/><polygon points="534.2,2501.0 538.1,2502.4 536.5,2507.3 531.4,2505.9"/><polygon points="529.9,2518.2 532.2,2513.2 535.8,2513.5 535.1,2517.7"/><polygon points="553.1,2511.1 550.6,2513.5 546.7,2509.9 549.2,2506.5"/><polygon points="634.0,2503.2 629.6,2503.9 628.9,2500.8 635.0,2499.8"/><polygon points="541.9,2503.7 540.5,2507.1 535.7,2506.5 535.7,2502.5"/><polygon points="606.7,2505.6 602.6,2506.1 601.8,2502.4 607.0,2501.8"/><polygon points="537.2,2507.1 532.8,2507.2 534.0,2502.6 537.4,2503.9"/><polygon points="555.0,2505.1 551.0,2501.5 553.7,2497.6 557.5,2500.6"/><polygon points="570.8,2502.2 572.6,2507.7 567.7,2508.7 566.5,2502.9"/><polygon points="566.8,2504.3 562.9,2506.6 561.8,2503.8 566.5,2500.8"/><polygon points="610.9,2500.0 607.2,2497.8 609.4,2492.8 613.5,2497.8"/><polygon points="536.9,2517.5 534.4,2514.3 538.6,2512.6 539.8,2516.1"/><polygon points="538.1,2506.5 537.6,2502.5 542.3,2502.7 541.1,2507.7"/><polygon points="616.3,2505.8 616.1,2500.5 621.2,2501.3 620.9,2506.3"/><polygon points="604.0,2499.9 607.1,2504.7 601.3,2506.4 599.9,2501.4"/><polygon points="614.2,2503.7 610.6,2501.9 613.5,2498.0 616.6,2501.2"/><polygon points="616.0,2499.9 612.3,2502.4 609.9,2498.7 612.9,2496.2"/><polygon points="621.2,2491.3 623.6,2494.0 620.1,2498.3 616.8,2494.5"/><polygon points="537.9,2514.6 535.9,2512.3 540.5,2509.1 541.4,2513.7"/><polygon points="580.3,2504.6 582.2,2498.9 586.3,2503.0 584.8,2506.5"/><polygon points="543.4,2504.0 542.4,2508.6 537.9,2505.9 540.1,2502.5"/><polygon points="536.2,2538.3 538.0,2534.1 540.9,2536.7 538.9,2540.2"/><polygon points="643.0,2509.5 645.9,2513.1 641.6,2514.8 639.3,2512.3"/><polygon points="560.4,2531.2 557.3,2527.6 561.3,2526.1 563.3,2528.7"/><polygon points="534.2,2532.2 531.0,2536.2 526.9,2532.1 530.0,2529.7"/><polygon points="624.8,2517.0 628.3,2518.7 625.2,2523.0 621.5,2520.2"/><polygon points="625.9,2528.8 623.4,2525.5 626.0,2523.2 630.4,2525.3"/><polygon points="586.4,2522.1 585.3,2524.7 581.4,2525.2 581.1,2521.1"/><polygon points="545.2,2531.2 544.8,2535.2 540.4,2535.0 540.0,2531.3"/><polygon points="586.5,2525.0 587.7,2529.1 582.5,2530.8 582.7,2524.3"/><polygon points="618.8,2525.9 620.2,2521.7 625.1,2525.9 620.7,2528.5"/><polygon points="512.0,2530.5 517.0,2528.2 519.0,2532.6 515.5,2534.0"/><polygon points="635.4,2515.0 634.7,2518.2 629.4,2517.6 631.0,2514.3"/><polygon points="586.4,2529.2 586.1,2525.0 591.7,2523.7 590.9,2529.8"/><polygon points="578.4,2527.1 577.1,2524.0 579.5,2520.0 582.4,2523.4"/><polygon points="615.3,2529.7 610.4,2527.7 612.6,2523.4 617.3,2527.1"/><polygon points="532.3,2541.1 530.2,2538.1 534.9,2534.8 536.5,2539.8"/><polygon points="535.6,2529.3 538.4,2530.3 536.7,2534.5 534.5,2533.8"/><polygon points="569.9,2531.1 567.7,2536.1 564.1,2536.7 565.1,2531.3"/><polygon points="610.9,2522.8 609.9,2519.5 615.1,2517.5 616.1,2522.7"/><polygon points="535.3,2529.1 536.5,2532.0 531.9,2535.4 530.3,2530.9"/><polygon points="568.8,2529.5 573.3,2531.1 569.6,2535.7 566.5,2530.8"/><polygon points="542.4,2535.0 547.2,2534.6 549.0,2538.4 542.5,2538.9"/><polygon points="541.2,2532.4 539.5,2535.2 534.2,2533.4 536.3,2528.9"/><polygon points="626.7,2521.2 629.2,2524.1 625.3,2526.5 622.4,2524.4"/><polygon points="542.6,2527.9 537.7,2530.6 537.3,2525.7 539.5,2524.6"/><polygon points="581.6,2530.2 583.4,2525.1 588.2,2528.0 584.9,2531.2"/><polygon points="639.5,2514.2 643.6,2512.6 645.6,2516.0 640.8,2518.1"/><polygon points="556.8,2529.0 553.4,2532.7 551.5,2528.4 553.7,2525.3"/><polygon points="646.5,2523.0 643.8,2526.8 640.1,2521.4 644.6,2518.8"/><polygon points="576.2,2522.3 578.4,2525.4 575.1,2527.6 572.3,2524.8"/><polygon points="540.2,2531.6 544.6,2530.8 544.1,2535.2 539.3,2536.1"/><polygon points="594.7,2521.7 590.1,2521.8 588.5,2518.4 593.4,2517.4"/><polygon points="550.4,2538.9 547.9,2534.8 553.7,2533.8 555.3,2536.8"/><polygon points="535.1,2525.1 534.6,2530.7 529.9,2529.2 529.3,2525.6"/><polygon points="611.7,2529.3 607.9,2529.7 606.2,2526.2 611.3,2525.8"/><polygon points="585.5,2528.8 582.7,2534.1 580.7,2530.5 583.4,2526.8"/><polygon points="640.0,2511.1 643.4,2516.0 639.9,2517.0 636.6,2513.7"/><polygon points="562.9,2528.5 560.2,2525.7 563.8,2522.1 566.0,2525.1"/><polygon points="599.1,2522.3 604.0,2522.2 603.5,2526.8 599.9,2526.1"/><polygon points="604.5,2526.9 602.1,2523.4 604.5,2520.5 607.8,2522.0"/><polygon points="582.1,2518.5 588.1,2518.9 588.1,2522.2 582.4,2523.5"/><polygon points="525.6,2539.7 522.8,2543.2 517.7,2539.3 522.5,2536.6"/><polygon points="638.5,2525.3 634.2,2528.1 631.2,2523.2 635.5,2520.9"/><polygon points="542.9,2534.7 539.2,2531.2 545.3,2528.6 546.9,2532.7"/><polygon points="514.7,2533.1 520.3,2533.7 518.7,2538.2 514.3,2537.1"/><polygon points="565.0,2535.3 562.6,2532.2 566.5,2529.5 568.8,2532.8"/><polygon points="638.1,2512.2 641.7,2513.8 641.4,2516.7 637.2,2518.3"/><polygon points="574.2,2525.7 573.8,2530.0 570.9,2530.5 570.1,2526.1"/><polygon points="533.3,2532.6 538.0,2531.5 538.4,2536.0 535.8,2536.3"/><polygon points="609.2,2524.2 612.3,2526.6 608.1,2530.0 605.8,2526.1"/><polygon points="547.5,2560.5 544.3,2562.0 542.3,2558.4 545.8,2555.6"/><polygon points="604.9,2543.7 608.2,2544.0 609.5,2548.3 602.9,2547.9"/><polygon points="629.6,2539.5 632.5,2541.4 631.0,2545.1 626.2,2541.9"/><polygon points="647.2,2545.9 644.4,2541.8 647.4,2539.2 650.2,2543.9"/><polygon points="546.5,2547.8 549.4,2550.8 545.9,2554.2 542.0,2550.6"/><polygon points="625.0,2545.3 621.1,2549.9 617.5,2546.6 620.9,2543.0"/><polygon points="539.6,2559.0 537.3,2559.7 535.6,2555.0 538.3,2554.8"/><polygon points="609.6,2544.5 614.8,2547.0 610.4,2551.7 607.3,2549.2"/><polygon points="646.5,2540.8 649.8,2541.9 651.4,2545.9 646.4,2546.3"/><polygon points="573.8,2548.6 570.4,2545.1 574.6,2541.9 576.8,2546.0"/><polygon points="574.6,2555.9 573.2,2551.9 578.1,2549.8 579.1,2554.3"/><polygon points="539.1,2557.5 536.8,2562.8 533.1,2560.2 535.3,2555.2"/><polygon points="546.6,2563.4 544.1,2559.2 547.4,2557.3 550.0,2561.2"/><polygon points="635.6,2545.8 635.8,2541.1 639.3,2541.8 639.9,2544.5"/><polygon points="567.6,2559.5 563.4,2555.8 567.1,2553.1 569.7,2555.5"/><polygon points="646.3,2539.2 650.6,2542.7 648.1,2545.3 644.4,2541.6"/><polygon points="533.5,2551.2 536.1,2552.4 535.0,2556.9 531.1,2555.4"/><polygon points="629.1,2536.9 626.0,2542.3 623.2,2538.7 624.9,2535.3"/><polygon points="564.0,2547.5 565.2,2543.1 569.4,2544.3 569.0,2548.6"/><polygon points="626.4,2549.0 628.5,2545.1 633.7,2546.5 630.7,2551.1"/><polygon points="646.8,2540.0 650.9,2540.8 651.4,2545.0 645.8,2544.0"/><polygon points="540.9,2554.5 543.3,2549.9 547.1,2552.2 544.3,2557.0"/><polygon points="589.0,2555.2 584.7,2558.2 583.9,2553.8 587.4,2551.3"/><polygon points="623.6,2540.6 628.1,2540.7 627.9,2545.8 622.4,2546.2"/><polygon points="561.4,2549.5 558.5,2546.7 562.5,2544.1 564.4,2547.0"/><polygon points="626.1,2548.1 630.2,2545.2 633.8,2547.6 628.7,2551.2"/><polygon points="581.7,2553.2 578.3,2550.4 582.4,2546.9 585.4,2549.2"/><polygon points="562.8,2559.2 560.1,2556.2 561.9,2552.7 565.7,2556.2"/><polygon points="549.7,2554.5 550.9,2549.8 555.5,2552.8 553.9,2557.2"/><polygon points="637.4,2535.6 640.1,2538.3 634.4,2539.9 633.5,2537.0"/><polygon points="540.3,2562.2 539.8,2556.5 544.4,2556.2 544.2,2561.0"/><polygon points="644.4,2533.4 649.3,2535.3 646.5,2539.6 643.4,2538.3"/><polygon points="582.5,2545.2 584.8,2540.4 587.9,2543.8 585.4,2546.9"/><polygon points="600.0,2546.3 600.1,2551.1 596.4,2551.9 595.1,2548.3"/><polygon points="617.3,2551.5 616.2,2547.4 620.4,2545.7 622.3,2551.0"/><polygon points="646.1,2538.9 648.7,2535.4 653.2,2537.6 649.7,2541.2"/><polygon points="640.8,2540.0 645.3,2536.2 647.0,2540.3 644.4,2542.5"/><polygon points="602.2,2544.5 605.6,2549.7 602.9,2551.1 599.9,2548.5"/><polygon points="618.4,2546.6 617.0,2551.5 612.1,2550.0 612.8,2545.6"/><polygon points="582.8,2553.8 577.6,2555.5 578.3,2550.7 583.4,2550.3"/><polygon points="597.0,2547.2 594.4,2543.4 599.3,2542.3 600.1,2545.3"/><polygon points="598.7,2553.7 600.1,2547.8 604.4,2551.8 602.2,2554.1"/><polygon points="614.0,2543.2 609.7,2543.0 611.3,2539.4 614.5,2540.9"/><polygon points="640.3,2565.4 641.1,2569.6 636.0,2570.4 634.8,2565.2"/><polygon points="631.2,2561.0 628.0,2563.2 624.8,2559.6 628.5,2557.2"/><polygon points="601.0,2565.8 606.5,2566.9 604.6,2571.7 600.2,2570.7"/><polygon points="604.6,2569.6 600.1,2569.7 598.1,2565.4 603.8,2564.4"/><polygon points="625.4,2566.7 625.2,2569.5 620.2,2570.2 621.1,2564.3"/><polygon points="641.5,2566.8 647.5,2565.1 647.5,2570.0 644.7,2571.3"/><polygon points="642.5,2557.8 645.2,2560.8 641.7,2563.3 637.9,2561.2"/><polygon points="643.8,2566.3 639.8,2566.9 638.4,2560.8 642.8,2561.0"/><polygon points="607.6,2568.5 602.5,2567.0 604.2,2562.4 607.6,2564.1"/><polygon points="636.9,2558.7 640.5,2557.9 642.1,2563.5 637.9,2563.1"/><polygon points="579.8,2574.4 581.0,2578.1 578.8,2581.0 576.0,2578.8"/><polygon points="597.1,2574.0 599.3,2571.3 603.6,2573.4 601.0,2577.1"/><polygon points="605.1,2570.9 602.8,2573.9 597.8,2571.1 600.9,2569.2"/><polygon points="649.6,2554.5 650.4,2559.1 648.4,2561.5 645.2,2555.9"/><polygon points="633.9,2562.9 632.2,2559.2 635.4,2557.8 636.7,2561.7"/><polygon points="630.2,2563.8 625.7,2565.8 625.4,2561.2 628.2,2559.9"/><polygon points="610.4,2569.9 610.6,2566.0 613.7,2565.3 615.3,2569.8"/><polygon points="650.7,2563.6 646.6,2561.7 648.7,2558.6 652.7,2560.2"/><polygon points="565.7,2571.8 563.1,2574.1 559.8,2570.1 562.6,2568.3"/><polygon points="630.2,2563.3 625.4,2565.1 623.4,2561.6 629.1,2559.5"/><polygon points="607.1,2567.5 603.1,2567.9 602.0,2564.0 606.9,2562.6"/><polygon points="591.9,2563.6 590.4,2567.8 585.7,2566.8 586.4,2563.7"/><polygon points="602.9,2562.9 605.7,2559.5 609.9,2564.5 606.2,2566.9"/><polygon points="573.7,2579.6 569.2,2580.2 567.4,2575.8 570.7,2573.0"/><polygon points="646.8,2559.9 643.9,2561.4 642.1,2556.0 646.5,2556.2"/><polygon points="589.7,2574.6 586.0,2571.7 590.6,2569.0 593.1,2572.3"/><polygon points="573.3,2576.8 578.4,2574.4 580.4,2577.1 576.9,2581.3"/><polygon points="613.1,2587.3 616.7,2584.6 620.4,2586.7 614.7,2590.8"/><polygon points="618.9,2588.1 618.3,2591.5 614.3,2590.8 614.0,2586.1"/><polygon points="610.1,2586.4 614.1,2583.7 616.7,2587.3 613.4,2590.7"/><polygon points="593.0,2589.9 594.4,2587.1 598.5,2588.3 596.6,2592.1"/><polygon points="606.1,2593.1 602.2,2590.9 604.7,2587.1 608.1,2588.6"/><polygon points="592.4,2589.4 597.4,2588.0 598.2,2591.8 593.9,2593.9"/><polygon points="615.4,2586.4 616.8,2592.0 612.2,2593.3 610.4,2587.5"/><polygon points="611.3,2588.2 608.4,2592.8 605.2,2589.3 607.4,2585.7"/><polygon points="629.4,2586.3 629.1,2581.8 634.8,2583.0 633.7,2586.5"/><polygon points="608.5,2591.7 603.7,2592.2 604.7,2587.3 608.4,2585.9"/><polygon points="607.8,2588.3 605.1,2592.6 601.4,2591.0 602.9,2586.7"/><polygon points="612.9,2587.2 611.4,2590.4 606.5,2589.2 608.6,2584.0"/><polygon points="601.2,2595.1 595.6,2592.6 596.0,2588.8 602.4,2590.3"/><polygon points="595.1,2592.5 590.4,2591.3 593.2,2586.9 597.4,2587.4"/><polygon points="619.4,2585.2 622.6,2581.9 625.5,2586.4 622.5,2587.9"/><polygon points="617.3,2588.9 613.4,2590.7 611.4,2585.3 615.4,2582.8"/></g>
<g transform="translate(364,2536.5) rotate(29)"><ellipse cx="0" cy="0" rx="80" ry="56" fill="#c8e4a4"/><path d="M5.3,49.6L6.3,57.3M-44.7,-31.4L-51.5,-36.8M-3.0,46.4L-5.4,53.3M37.4,-42.5L40.3,-47.9M-52.0,-39.5L-56.3,-46.6M-31.6,-38.4L-33.2,-46.0M-19.9,41.8L-23.0,48.4M-15.9,-52.0L-16.0,-60.9M-60.8,31.3L-66.6,38.2M48.6,-30.4L51.1,-36.3M69.5,-10.5L76.0,-12.0M-69.8,-2.4L-77.5,-2.3M-68.0,-26.0L-74.2,-32.4M50.2,-43.7L53.7,-48.8M50.8,-42.3L56.1,-47.7M-16.1,-44.6L-15.8,-52.2M-13.2,42.5L-16.5,51.1M66.1,28.0L70.9,31.8M-20.6,51.5L-23.0,56.8M-49.3,-28.6L-52.9,-34.4M58.5,-36.3L64.1,-43.6M-24.2,42.1L-26.0,47.5M23.5,46.2L24.6,52.2M74.5,14.0L83.3,16.3M56.1,-28.4L61.1,-34.0M-46.0,-39.1L-49.5,-46.1M67.0,-17.2L74.0,-21.5M6.5,47.0L4.7,54.2M-60.7,-12.8L-67.9,-15.6M74.1,6.1L79.7,7.6M-50.7,-34.8L-53.9,-40.8M-19.9,-51.3L-22.6,-56.5M-35.7,-49.2L-39.1,-55.6M-58.0,-25.9L-63.2,-30.1M-51.0,36.6L-54.1,42.8M8.9,-43.0L10.0,-51.1M-24.7,43.4L-27.5,49.2M28.1,45.4L29.0,51.3M-30.0,42.9L-33.6,49.1M41.6,-35.1L44.7,-42.4M54.6,-32.1L57.5,-37.4M-65.3,-7.3L-73.1,-11.0M28.7,42.2L29.6,50.1M25.2,-44.8L25.4,-51.4M19.2,-45.0L19.9,-52.0M-62.0,23.9L-67.7,26.4M78.6,0.5L87.4,2.9M-73.1,22.5L-79.2,24.4M-2.6,-53.3L-2.0,-60.8M-17.7,46.8L-17.7,52.6M-59.4,-24.5L-62.9,-29.0M61.0,-29.3L68.7,-33.7M60.2,-28.1L64.0,-35.5M33.1,41.1L35.0,48.4M-68.4,28.0L-73.8,32.1M-1.3,53.2L-1.3,61.6M-40.0,36.0L-44.2,43.5M37.7,45.5L38.7,54.0M28.2,-38.3L31.7,-46.3M64.7,14.5L71.8,16.6M-64.0,23.3L-69.0,25.8M62.4,15.7L68.1,17.2M77.2,-7.4L83.8,-10.8M-28.3,42.7L-30.0,50.5M-59.7,-24.9L-65.6,-28.3M52.9,34.6L56.2,40.8M58.3,21.6L64.8,25.9M13.7,-46.9L16.2,-54.3M-63.4,19.3L-70.2,23.7M-66.7,24.5L-71.7,28.6M-73.3,-12.2L-80.4,-12.6M-70.0,24.6L-76.5,27.1M62.4,-30.9L66.6,-36.8M55.6,35.9L60.0,43.5M19.4,-49.5L21.9,-56.7M58.8,31.1L64.1,34.2M10.7,-44.2L9.9,-50.1M49.8,-29.6L52.8,-37.7M56.7,35.7L61.0,43.2M70.7,-15.3L76.3,-16.6M7.7,-50.0L8.9,-55.8M0.4,-55.0L-1.4,-61.5M-71.8,-21.1L-77.5,-23.5M0.5,51.0L-0.5,57.9M-48.1,35.2L-51.3,41.5M63.5,23.6L67.5,29.5M-1.6,-44.9L-0.7,-53.2M-33.5,-43.6L-36.3,-51.0M53.7,-25.8L57.7,-33.0M62.6,-24.0L68.8,-29.4M26.3,42.9L29.8,49.8M-26.4,41.7L-30.0,50.0M-21.8,48.9L-23.1,57.5M-59.3,-24.1L-64.2,-27.0M-69.8,5.4L-76.2,7.9M-34.6,46.1L-35.6,55.2M-72.4,6.1L-80.8,7.8M32.0,-44.5L34.6,-52.3M43.2,-37.1L48.6,-44.3M-65.9,8.4L-73.3,11.9M-37.2,-49.0L-38.1,-55.4M24.7,43.0L28.3,50.3M50.3,-40.8L53.5,-48.9M-27.6,45.4L-30.1,50.8M65.1,29.3L70.6,33.4M-65.6,-25.4L-71.9,-27.9M-66.5,18.1L-72.3,23.2M68.1,-13.3L73.7,-15.4M-12.7,50.0L-11.6,58.8M54.7,-24.6L60.9,-27.8M11.3,-51.6L11.1,-59.6M-43.5,-43.3L-48.1,-50.2M73.3,-12.3L79.1,-14.2M-69.1,2.3L-77.1,1.7M-61.1,-17.6L-67.4,-22.4M34.7,49.1L36.1,55.0M60.1,-17.7L66.5,-22.9M-60.3,-28.1L-65.0,-33.7M-26.7,41.4L-26.9,49.6M1.6,-50.2L2.7,-57.0M-6.5,48.7L-8.2,54.2M-68.0,-0.8L-74.7,-2.2M-35.1,41.2L-38.5,48.9M-48.2,42.5L-49.9,48.8M53.7,25.1L58.3,31.8M26.6,41.5L29.4,49.2M31.0,-48.4L33.1,-54.2M-53.9,26.8L-59.3,32.2M21.0,45.0L21.3,50.7M25.2,-51.5L28.6,-57.6M-68.9,-15.2L-76.7,-19.9M-27.7,-43.1L-28.3,-50.4M-60.2,-31.1L-67.5,-35.2M-38.3,-41.7L-41.1,-48.4M24.6,46.9L28.4,53.3M-43.4,-37.6L-47.4,-45.7M51.0,-28.2L57.2,-33.1M66.7,15.3L72.4,16.9M-76.1,-13.1L-84.6,-15.1M-23.5,-42.0L-23.8,-49.7M68.0,-23.1L74.1,-26.2M27.3,-51.3L30.5,-57.7M3.8,-50.1L2.7,-55.7M58.9,21.7L65.6,24.9M-22.8,-47.0L-25.0,-54.7M-23.9,46.4L-26.6,52.8M34.1,49.0L35.4,55.8M-50.5,36.2L-54.4,41.3M67.7,0.3L73.7,1.4M-65.6,10.8L-71.0,13.9M-56.1,25.3L-59.1,30.6M35.4,43.9L38.8,48.4M-67.4,15.8L-72.9,17.6M-58.4,25.6L-62.8,33.6M12.9,44.3L13.8,50.5M-50.3,-33.8L-54.6,-37.6M-10.3,-46.3L-9.8,-53.6M63.5,-18.6L68.4,-22.9M30.1,-47.3L31.3,-53.1M-33.7,-50.7L-35.1,-56.1M64.6,8.9L70.3,9.3M71.3,16.2L76.2,20.3M69.8,-8.4L78.6,-8.9M59.9,-15.2L66.2,-19.8M61.2,-13.5L68.4,-18.3M52.6,31.3L58.2,37.1M59.5,-19.6L66.9,-23.2M37.1,-43.4L41.3,-48.9M-57.9,23.6L-64.3,27.3M-7.7,45.0L-9.4,52.6M-17.5,-47.2L-18.6,-53.2M-15.7,-41.9L-17.3,-50.1M-28.3,-39.6L-32.4,-47.2M-50.3,-41.4L-52.3,-48.4M61.3,-30.9L65.5,-36.5M64.6,20.4L68.4,25.0M-58.9,-19.1L-66.4,-21.6M3.0,43.9L5.0,51.5M-54.0,-21.9L-61.8,-26.6M13.6,48.8L15.1,57.0M-61.7,-32.1L-65.8,-36.8M29.7,40.3L30.5,46.2M78.1,8.7L86.9,8.9M60.7,24.8L68.1,29.2M-56.2,-32.5L-60.5,-40.1M-42.7,42.0L-45.1,47.5M37.7,-44.0L41.2,-49.2M-70.1,-11.5L-75.3,-14.2M-42.1,39.8L-43.5,47.3M-6.9,-48.1L-6.8,-55.9M16.8,46.7L15.8,53.4M-60.0,18.2L-64.5,22.4M67.8,-21.8L76.3,-25.1M-60.9,-34.9L-65.3,-40.5M74.4,-17.9L81.6,-19.2M9.1,-47.3L12.6,-55.5M-21.6,53.2L-21.6,59.2M-12.0,-46.0L-12.9,-53.8M73.7,13.3L80.6,14.9M-42.8,43.6L-46.5,49.1M55.4,28.6L59.6,32.7M44.2,41.8L47.2,50.4M78.3,-6.5L84.2,-8.1M-27.3,45.1L-29.6,52.3M-50.5,40.8L-53.3,47.5M59.5,-34.3L62.9,-39.8M23.4,-40.6L23.6,-48.1M-65.1,-10.8L-71.4,-11.1M7.9,-48.4L10.9,-56.2M64.6,-5.2L69.8,-7.2M-63.9,18.3L-68.9,23.9M56.7,25.9L63.7,30.7M-60.3,21.8L-64.4,27.6M-53.2,-35.6L-56.1,-43.6M1.7,44.6L0.5,53.0M-77.8,-2.8L-84.3,-3.5M31.7,37.1L34.2,45.6M58.9,-26.6L65.9,-32.1M29.4,-46.4L31.2,-53.6M32.4,38.9L34.7,47.8M-67.4,-14.0L-74.3,-16.3M22.9,-47.0L25.9,-52.3M-29.1,44.8L-31.2,53.2M37.6,-48.8L40.0,-54.0M-65.5,-22.3L-70.9,-26.1M-19.2,-52.4L-22.5,-59.7M-49.0,35.5L-55.7,41.6M-42.9,-35.8L-44.5,-41.9M-58.5,35.3L-62.0,40.9M76.0,-16.2L82.0,-19.9M-13.9,43.2L-13.8,52.3M59.8,22.5L65.0,25.2M-75.0,-7.5L-82.2,-10.9M27.0,-38.6L28.6,-47.5M62.2,19.5L67.7,23.0M-60.8,-12.6L-69.5,-14.7M47.9,42.0L53.8,49.1M-34.1,-46.3L-37.2,-51.2M4.8,-45.0L3.6,-53.4M45.1,-31.4L51.0,-36.2M-48.5,28.8L-53.5,36.4M-13.6,44.8L-13.1,50.9M-48.8,43.3L-50.3,49.5M74.8,-21.2L81.1,-22.7M-48.8,42.7L-52.6,49.9M-25.4,39.7L-27.0,47.8M14.8,-49.1L15.8,-56.6M-68.2,18.1L-74.2,19.9M-67.0,-29.9L-70.5,-35.1M76.3,-11.4L82.0,-14.6M20.3,42.2L19.8,49.2M46.8,-30.7L49.5,-39.0M21.8,-53.1L24.0,-60.2M6.6,-44.5L7.3,-51.6M44.8,40.1L48.9,46.2M-48.9,33.0L-52.7,39.7M78.0,-7.3L86.6,-6.9M-19.1,54.1L-19.2,60.2M-75.6,-0.6L-83.4,0.1M-16.4,53.8L-17.3,61.0M-77.1,-9.3L-83.5,-13.3M-69.8,17.1L-75.0,22.0M45.3,-41.9L47.0,-50.4M-60.7,36.5L-64.2,41.8M-74.2,-15.7L-82.3,-19.0M-16.5,-46.4L-18.7,-53.5M-55.9,27.7L-62.5,33.5M-57.1,-23.0L-63.1,-26.5M-49.6,-30.2L-55.0,-34.3M-13.2,42.1L-14.7,50.9M-74.0,-9.9L-81.5,-14.0M61.3,-25.5L66.2,-28.9M51.0,-31.8L56.2,-38.9M-14.8,44.5L-17.5,51.8M56.0,22.5L60.6,25.8M33.9,-39.5L35.6,-46.3M-70.3,-3.1L-78.2,-4.6M-59.5,17.8L-67.3,19.9M61.5,22.8L67.6,29.7M58.6,17.2L64.7,20.9M61.8,-32.2L66.0,-37.9M-68.1,-27.0L-74.2,-30.4M62.2,27.0L70.3,30.8M-72.8,-8.1L-79.2,-7.9M-76.8,10.3L-83.2,12.0M74.7,-5.7L80.9,-6.6M-24.7,51.4L-24.7,58.9M-51.3,-31.2L-55.4,-39.1M48.8,-40.9L50.7,-46.4M-62.9,17.9L-69.3,23.8M17.5,52.6L16.8,58.6M61.3,-24.4L65.2,-29.2M69.3,11.3L77.7,13.6M32.8,-38.2L35.1,-44.8M29.5,41.5L33.2,48.7M-36.2,37.4L-38.0,44.4M-63.0,-17.9L-68.0,-21.8M-34.8,-44.3L-39.2,-51.3M-57.2,30.3L-62.8,35.8M-59.6,15.6L-67.8,18.3M-72.5,2.3L-81.1,4.3M-27.4,-41.3L-28.4,-50.4M-46.3,45.7L-48.9,51.4M-15.0,-46.2L-15.1,-53.9M57.5,30.2L61.1,36.6M-75.7,-12.9L-82.7,-15.2M-67.7,-26.9L-72.9,-29.7M5.7,-49.2L5.1,-58.0M53.6,-33.1L60.6,-38.0M0.3,-46.8L-2.1,-54.5M-6.5,-47.3L-7.1,-54.9M0.2,51.9L-0.0,58.9M56.1,31.3L62.1,37.0M32.7,42.8L36.3,48.9M-57.8,-21.0L-64.6,-23.7M21.5,48.0L23.9,53.4M-77.2,-11.6L-83.6,-15.5M-52.6,26.1L-56.5,31.6M61.0,-16.6L68.1,-18.3M-62.5,19.4L-68.6,21.1M-65.4,-21.8L-71.2,-24.4M75.7,-5.2L84.6,-5.1M62.5,29.6L66.2,34.8M-76.8,13.7L-84.2,17.6M37.9,44.2L41.7,50.7M-54.4,38.6L-59.4,44.0M-28.2,-45.0L-28.9,-51.5M-71.4,-13.9L-76.8,-15.7M35.4,44.4L39.7,51.5M-79.2,-0.8L-87.2,-2.8M-44.8,30.9L-49.7,37.6M59.1,-20.1L65.1,-27.1M-5.3,-49.7L-4.7,-55.9M-72.7,-13.7L-78.2,-16.4M49.8,38.4L51.7,44.2M65.1,1.3L71.9,3.0M-77.6,15.1L-83.8,17.2M-19.0,-41.2L-21.8,-48.8M31.2,38.6L33.5,45.0M64.3,-8.5L71.3,-9.0M24.3,-46.1L26.6,-52.5M12.1,48.5L11.7,55.3M8.2,48.5L10.4,54.9M-65.9,-21.6L-71.1,-25.8M63.7,7.0L70.0,7.8M-62.2,-18.5L-67.9,-23.8M-40.3,-44.3L-43.0,-50.9M-22.9,41.4L-26.1,48.1M64.5,31.1L69.6,37.0M-61.2,17.6L-67.3,19.0M-54.8,40.5L-57.2,47.4M-67.2,6.7L-74.3,6.1M71.0,4.6L79.0,3.1M54.8,-38.6L57.3,-46.3M-24.9,46.4L-25.8,53.0M48.9,37.3L55.5,43.5M77.4,15.3L83.1,16.5M-3.0,-49.8L-2.0,-57.1M-45.1,-31.9L-48.5,-38.5M62.1,-8.9L68.8,-13.4M53.9,-17.6L58.9,-20.3M-42.0,25.4L-45.1,28.6M-18.2,39.0L-18.8,44.5M0.9,38.9L0.1,45.0M58.8,-10.1L63.2,-12.8M54.6,13.3L59.7,16.3M5.4,38.4L6.7,43.1M-52.4,0.3L-58.0,-1.1M-28.6,32.8L-29.6,38.9M3.1,-39.5L3.8,-44.5M13.1,37.6L14.9,43.1M-34.1,-32.3L-38.4,-36.9M-53.1,5.2L-58.4,6.2M20.9,37.1L21.8,43.2M49.8,-19.4L55.4,-22.2M-10.8,-41.9L-13.1,-47.7M46.5,-21.6L51.4,-26.1M-12.9,41.1L-15.2,46.1M37.6,29.9L39.2,35.0M-19.7,36.8L-22.4,41.1M64.5,5.1L69.9,5.4M57.8,-4.8L63.7,-7.7M5.8,38.6L4.7,43.4M49.4,-22.4L52.4,-26.3M-53.2,-10.5L-58.5,-12.2M-14.5,40.3L-17.4,45.8M26.5,-33.9L27.4,-38.7M38.8,34.8L40.2,41.2M-48.1,-13.4L-52.2,-15.3M49.0,-20.7L53.2,-25.9M21.7,40.7L23.7,46.3M51.4,26.5L55.1,30.1M-30.3,-34.0L-33.0,-37.8M-45.1,-16.2L-48.6,-20.1M30.0,34.4L33.0,38.7M-51.9,-10.7L-56.9,-12.0M-56.7,3.3L-62.9,4.3M-50.6,3.3L-56.6,5.5M-52.7,4.9L-59.0,6.0M-37.8,27.7L-40.1,31.5M-52.3,-10.9L-57.4,-12.9M-55.5,6.2L-61.6,9.0M48.6,27.9L53.4,31.9M-0.5,36.8L-1.0,43.2M37.6,-35.8L40.6,-39.1M-36.2,25.8L-40.1,29.7M-0.2,-41.9L1.5,-47.7M44.9,-27.5L47.3,-33.6M49.1,19.7L52.1,23.8M-24.6,-31.4L-28.0,-36.5M59.8,8.7L63.9,11.4M-14.2,-39.6L-15.0,-45.8M-13.7,-35.0L-16.1,-40.2M57.5,-7.2L62.1,-8.2M35.9,-32.2L38.6,-37.6M42.8,30.6L45.1,36.6M-8.6,37.1L-8.2,43.6M-49.3,14.5L-54.6,17.5M-20.0,35.3L-22.9,40.8M-11.7,35.7L-14.5,41.2M-45.0,-21.3L-47.8,-25.9M14.1,36.5L15.5,42.2M-37.9,32.3L-41.2,36.7M-28.8,-34.2L-30.8,-39.5M-54.5,-5.2L-59.0,-7.1M15.1,-38.4L16.8,-42.7M-54.2,4.0L-59.1,4.0M-1.2,37.5L-1.7,43.2M57.2,0.7L63.8,-0.5M-53.0,10.6L-58.2,13.6M26.9,-37.9L26.9,-43.4M-50.5,3.0L-55.7,2.6M-12.9,39.4L-14.3,44.8M40.5,-31.2L42.4,-35.3M-50.6,-12.5L-55.3,-14.9M56.8,2.1L61.4,1.4M38.4,-32.0L40.4,-37.8M-33.4,-27.7L-35.4,-32.2M57.6,-0.3L62.6,-1.1M42.8,-32.3L45.4,-36.3M-51.0,16.7L-55.3,21.7M36.5,-35.9L39.5,-40.9M58.4,-5.7L62.8,-7.2M28.1,38.0L31.4,43.3M-45.5,25.7L-50.2,29.4M33.8,-30.5L35.4,-35.5M-50.1,17.8L-55.9,20.0M56.9,-17.4L61.3,-20.9M2.6,-42.4L2.2,-47.6M-39.6,-25.1L-41.5,-29.1M-31.1,-32.2L-34.6,-36.7M-58.0,7.4L-63.8,7.4M46.0,-29.9L48.5,-35.8M34.1,-37.7L36.9,-42.2M18.6,39.4L20.9,45.2M-51.5,-19.0L-55.9,-21.6M52.2,-22.7L56.0,-27.0M-51.6,16.0L-56.0,18.6M64.0,-5.7L69.0,-5.9M24.3,38.7L24.7,44.7M16.8,40.6L17.6,45.8M-45.7,-20.3L-50.0,-24.8M56.2,-4.0L62.8,-4.7M-30.2,-34.0L-31.3,-38.4M18.7,-39.7L19.9,-44.6M-37.2,-25.5L-40.2,-29.5M58.0,-17.0L63.1,-20.4M-41.0,25.6L-43.9,31.4M9.1,-41.3L8.0,-47.6M61.6,3.0L66.1,3.5M-51.3,20.1L-55.6,22.9M24.9,-36.3L27.6,-40.9M58.0,20.6L62.6,22.5M10.1,-36.8L10.9,-43.2M-44.8,-20.0L-48.9,-24.9M-48.8,-19.5L-53.4,-22.3M65.5,-1.5L70.0,-3.2M12.1,42.0L13.5,46.6M7.8,-37.9L9.7,-43.1M52.2,-24.2L55.7,-29.4M-39.6,10.0L-42.4,14.1M-42.8,-12.8L-45.8,-15.5M-41.3,5.4L-45.8,8.3M-44.0,-3.4L-48.8,-2.6M-13.3,26.2L-12.6,31.5M-36.6,-23.8L-39.0,-26.7M14.7,23.0L17.0,26.1M3.3,-32.2L5.2,-37.1M-46.2,-12.6L-50.1,-15.3M-40.0,8.3L-42.6,11.4M-42.6,3.9L-47.4,4.2M-7.2,-32.7L-8.3,-38.0M33.5,-9.3L37.8,-12.2M28.5,-21.5L31.4,-25.3M24.9,14.5L28.3,18.3M31.7,13.0L36.7,15.4M-0.9,26.2L-1.6,31.7M-46.6,1.9L-51.4,3.9M29.5,16.0L31.7,18.9M33.1,-12.4L36.1,-15.2M34.0,1.1L39.2,3.1M-35.1,-24.3L-37.0,-29.0M-35.4,14.6L-37.5,18.8M7.1,25.2L8.5,29.7M-45.5,-11.6L-49.5,-12.4M-20.2,-27.6L-21.2,-33.0M-38.7,16.0L-42.5,20.0M-47.6,-7.5L-51.4,-8.9M-46.3,-6.1L-51.2,-6.8M31.5,-19.3L34.8,-21.3M-18.0,-31.1L-17.8,-34.7M15.7,23.7L17.8,28.2M-39.2,-18.0L-42.8,-21.0M36.5,-6.0L40.7,-5.8M-15.5,-30.6L-15.6,-35.9M34.2,11.4L37.3,14.1M-42.7,2.2L-47.4,4.6M-15.4,-32.5L-16.8,-36.1M-35.2,16.6L-38.1,19.6M-8.0,-31.4L-9.0,-36.5M32.8,10.1L36.2,11.7M-46.1,0.9L-50.4,1.4M34.7,-15.4L37.2,-18.0M35.0,-9.3L38.4,-11.5M-17.1,-28.5L-18.5,-33.2M-29.9,20.2L-33.5,24.0M-34.1,-23.7L-37.3,-27.4M-29.9,-25.8L-32.3,-30.3M7.8,25.5L7.5,29.2M-6.2,27.3L-5.0,32.3M-39.4,-15.8L-42.1,-18.3M18.0,-25.2L21.5,-29.2M21.3,18.0L24.8,21.8M26.5,11.9L31.1,14.6M-4.3,24.6L-4.1,29.3M-43.0,12.3L-46.2,15.6M21.3,-23.1L23.1,-28.0M-22.5,24.7L-24.5,28.6M-24.2,20.3L-26.7,24.0M-27.0,18.9L-28.5,24.1M23.8,17.6L26.0,21.7M-45.3,-3.9L-50.5,-3.0M28.5,-19.5L31.6,-23.9M7.0,22.3L7.8,27.5M-40.8,-14.2L-43.2,-17.2M-29.4,22.2L-32.3,26.4M34.1,10.8L37.2,12.7M6.5,-32.3L6.0,-36.8M28.1,-18.3L31.2,-22.4M-45.9,8.1L-51.0,9.6M-15.9,-28.9L-16.3,-33.7M-46.8,-0.2L-50.6,0.9M29.8,-16.5L33.0,-21.0M-47.6,-5.1L-51.5,-5.1M-26.9,22.3L-28.2,27.6M-20.3,25.3L-20.5,29.8M22.4,16.3L24.7,19.9M-43.6,-9.4L-47.7,-10.3M26.2,-18.2L29.6,-22.2M-41.6,-14.5L-44.0,-17.5" stroke="#3db536" stroke-width="1.9" fill="none"/><ellipse cx="3" cy="0" rx="60" ry="43" fill="none" stroke="#3db536" stroke-width="2.0" stroke-dasharray="3 2.5"/><ellipse cx="-5" cy="-3" rx="42" ry="30" fill="none" stroke="#3db536" stroke-width="2.0"/><ellipse cx="-12" cy="-6" rx="24" ry="17" fill="none" stroke="#3db536" stroke-width="2.1"/><ellipse cx="-15" cy="-7" rx="16" ry="11.5" fill="none" stroke="#3db536" stroke-width="2"/><ellipse cx="-16" cy="-7" rx="9.5" ry="7" fill="none" stroke="#3db536" stroke-width="2"/></g>
<use href="#pick" transform="translate(1330,2480.4)" fill="#e6e6e6"/><polygon points="1387.8,2552.1 1390.5,2547.0 1397.6,2550.4 1394.3,2554.6" fill="#fbd2c4"/><polygon points="1418.4,2555.3 1422.6,2553.2 1423.7,2562.1 1417.4,2561.9" fill="#bcbcbc"/><polygon points="1352.6,2509.2 1356.0,2504.0 1362.0,2511.5 1356.4,2513.7" fill="#bcbcbc"/><polygon points="1358.2,2516.3 1362.5,2513.4 1366.7,2517.0 1360.6,2522.2" fill="#bcbcbc"/><polygon points="1425.7,2530.0 1429.9,2529.8 1430.0,2538.0 1425.8,2536.6" fill="#fde89c"/><polygon points="1442.1,2507.9 1435.8,2503.4 1438.1,2498.8 1443.2,2502.4" fill="#fde89c"/><polygon points="1350.3,2532.1 1353.6,2535.5 1349.4,2539.8 1346.1,2535.2" fill="#bcbcbc"/><polygon points="1393.5,2555.3 1393.0,2550.0 1399.8,2551.1 1399.5,2556.7" fill="#fbd2c4"/><polygon points="1421.9,2527.4 1426.6,2523.9 1429.3,2531.6 1422.3,2534.0" fill="#c2c2c2"/><polygon points="1415.8,2516.9 1414.5,2521.7 1409.1,2518.5 1408.9,2512.8" fill="#bcbcbc"/><polygon points="1430.4,2491.0 1431.4,2484.5 1436.8,2486.4 1433.8,2494.5" fill="#c2c2c2"/><polygon points="1426.0,2566.3 1422.1,2571.7 1417.7,2569.3 1419.8,2564.5" fill="#fde89c"/><polygon points="1397.0,2524.5 1394.8,2531.8 1388.8,2530.0 1390.7,2521.6" fill="#bcbcbc"/><polygon points="1382.9,2582.0 1387.3,2577.2 1390.8,2579.4 1388.6,2584.1" fill="#fbd2c4"/><polygon points="1385.8,2517.8 1391.8,2520.5 1388.8,2525.7 1384.8,2523.9" fill="#fde89c"/><polygon points="1438.8,2567.6 1434.0,2563.2 1436.6,2558.4 1441.9,2564.5" fill="#c2c2c2"/><polygon points="1452.5,2526.8 1449.4,2520.9 1452.3,2517.8 1456.6,2522.6" fill="#fde89c"/><polygon points="1354.3,2524.3 1347.0,2527.6 1343.1,2523.2 1350.5,2520.8" fill="#fbd2c4"/><polygon points="1405.2,2562.6 1404.9,2566.2 1399.3,2567.6 1398.2,2562.3" fill="#fde89c"/><polygon points="1446.6,2507.3 1449.1,2510.2 1442.9,2514.0 1440.8,2510.2" fill="#bcbcbc"/><polygon points="1448.7,2512.8 1444.3,2516.4 1438.7,2512.7 1444.1,2507.7" fill="#fde89c"/><polygon points="1432.3,2526.3 1438.6,2529.8 1435.6,2533.5 1431.1,2530.1" fill="#fbd2c4"/><polygon points="1408.4,2559.3 1409.3,2564.3 1403.6,2567.7 1401.2,2561.0" fill="#fde89c"/><polygon points="1403.4,2583.6 1400.8,2580.2 1403.9,2576.1 1409.7,2580.0" fill="#bcbcbc"/><polygon points="1398.1,2566.3 1402.7,2562.3 1408.9,2566.0 1404.2,2572.1" fill="#bcbcbc"/><polygon points="1432.6,2540.3 1429.4,2534.4 1435.7,2532.0 1439.9,2536.7" fill="#fde89c"/><polygon points="1400.2,2555.1 1399.6,2549.1 1405.9,2548.5 1405.3,2557.8" fill="#bcbcbc"/><polygon points="1436.5,2533.1 1440.7,2525.8 1444.4,2530.6 1442.3,2535.8" fill="#bcbcbc"/><polygon points="1355.4,2512.4 1352.4,2507.9 1358.2,2503.6 1361.6,2510.4" fill="#fde89c"/><polygon points="1423.7,2595.0 1423.6,2589.6 1430.5,2588.5 1430.5,2595.5" fill="#bcbcbc"/><polygon points="1418.1,2587.0 1417.7,2592.3 1410.8,2589.8 1413.2,2585.3" fill="#bcbcbc"/><polygon points="1380.1,2533.7 1385.4,2530.3 1388.2,2535.2 1382.6,2540.5" fill="#c2c2c2"/><polygon points="1380.1,2564.5 1383.2,2568.9 1380.6,2572.7 1375.3,2569.1" fill="#fde89c"/><polygon points="1411.7,2500.3 1405.8,2502.8 1406.0,2496.1 1411.0,2496.4" fill="#bcbcbc"/><polygon points="1338.6,2529.4 1342.1,2524.8 1346.8,2530.9 1343.0,2534.8" fill="#c2c2c2"/><polygon points="1388.7,2507.7 1384.3,2509.9 1382.3,2500.6 1389.6,2501.9" fill="#bcbcbc"/><polygon points="1357.3,2548.8 1360.9,2556.8 1354.1,2557.8 1351.9,2551.1" fill="#bcbcbc"/><polygon points="1428.1,2580.4 1422.0,2578.3 1422.3,2573.3 1431.4,2577.0" fill="#fbd2c4"/><polygon points="1354.1,2530.8 1361.3,2526.8 1365.1,2533.8 1360.4,2536.3" fill="#bcbcbc"/><polygon points="1427.2,2511.6 1430.8,2508.9 1436.0,2512.1 1431.7,2516.9" fill="#c2c2c2"/><polygon points="1400.3,2584.5 1406.0,2584.4 1406.7,2590.4 1399.3,2591.1" fill="#bcbcbc"/><polygon points="1349.5,2540.6 1355.2,2539.1 1357.4,2545.0 1351.2,2546.2" fill="#fde89c"/><polygon points="1458.5,2568.1 1454.7,2564.4 1460.2,2560.5 1462.6,2567.0" fill="#fde89c"/><polygon points="1454.4,2537.8 1449.9,2536.0 1456.0,2531.1 1458.6,2535.8" fill="#c2c2c2"/><polygon points="1424.5,2488.0 1426.6,2483.0 1432.2,2484.8 1428.7,2490.1" fill="#c2c2c2"/><polygon points="1411.0,2529.8 1413.8,2532.6 1410.6,2537.8 1405.9,2534.1" fill="#fbd2c4"/><polygon points="1445.1,2510.5 1451.7,2513.3 1449.1,2518.0 1441.3,2515.3" fill="#fde89c"/><polygon points="1390.3,2564.1 1385.1,2558.7 1386.7,2553.8 1392.7,2558.4" fill="#bcbcbc"/><polygon points="1377.6,2539.4 1380.1,2546.1 1374.1,2545.6 1373.3,2540.9" fill="#bcbcbc"/><polygon points="1444.0,2523.6 1445.8,2530.4 1440.2,2531.5 1438.1,2524.4" fill="#fde89c"/><polygon points="1370.1,2547.1 1376.1,2544.0 1378.5,2549.4 1373.1,2552.0" fill="#c2c2c2"/><polygon points="1369.3,2574.8 1368.6,2569.8 1374.7,2569.2 1376.2,2574.1" fill="#fde89c"/><polygon points="1450.6,2568.0 1452.4,2563.6 1460.0,2566.8 1456.8,2570.7" fill="#bcbcbc"/><polygon points="1376.7,2522.7 1382.2,2522.3 1385.0,2527.5 1379.4,2529.4" fill="#c2c2c2"/><polygon points="1436.6,2506.3 1444.0,2503.2 1446.7,2508.0 1440.5,2511.1" fill="#bcbcbc"/><polygon points="1419.3,2493.5 1422.6,2500.5 1416.2,2502.5 1412.5,2496.7" fill="#fde89c"/><polygon points="1397.5,2577.9 1402.3,2582.0 1397.4,2587.5 1391.8,2582.4" fill="#bcbcbc"/><polygon points="1405.4,2574.8 1400.5,2573.3 1398.8,2566.7 1404.5,2566.6" fill="#fbd2c4"/><polygon points="1399.0,2514.9 1400.7,2509.7 1408.1,2515.4 1405.2,2518.7" fill="#bcbcbc"/><polygon points="1442.6,2522.8 1435.9,2520.9 1438.4,2516.7 1443.5,2517.7" fill="#bcbcbc"/><polygon points="1439.7,2517.8 1436.1,2523.5 1429.6,2519.8 1433.9,2516.2" fill="#fde89c"/><polygon points="1453.2,2530.2 1450.4,2535.0 1443.9,2533.4 1448.2,2527.0" fill="#bcbcbc"/><polygon points="1425.1,2558.2 1427.1,2551.8 1432.0,2553.3 1430.4,2561.1" fill="#bcbcbc"/><polygon points="1345.6,2520.8 1353.2,2523.3 1348.5,2530.0 1342.8,2526.5" fill="#fde89c"/><polygon points="1353.3,2547.5 1358.1,2544.8 1364.6,2549.0 1358.5,2552.4" fill="#fde89c"/><polygon points="1427.0,2565.9 1424.3,2569.4 1418.3,2566.1 1421.4,2561.5" fill="#fde89c"/><polygon points="1443.2,2511.1 1435.2,2508.7 1438.4,2502.0 1442.6,2503.4" fill="#fde89c"/><polygon points="1371.2,2509.6 1375.9,2513.2 1374.9,2519.2 1369.1,2514.9" fill="#c2c2c2"/><polygon points="1415.5,2493.7 1410.2,2495.2 1406.7,2489.1 1411.6,2487.7" fill="#bcbcbc"/><polygon points="1416.1,2567.1 1420.7,2571.3 1418.4,2575.5 1411.5,2574.3" fill="#fde89c"/><polygon points="1343.4,2531.2 1341.6,2525.6 1346.7,2524.6 1349.2,2529.5" fill="#fde89c"/><polygon points="1405.9,2552.5 1400.3,2556.6 1396.1,2551.8 1399.9,2549.7" fill="#bcbcbc"/><polygon points="1362.5,2558.5 1358.6,2551.3 1366.2,2548.7 1368.2,2554.8" fill="#fde89c"/><polygon points="1427.9,2592.0 1435.5,2589.0 1437.1,2596.0 1430.1,2596.3" fill="#bcbcbc"/><polygon points="1424.6,2516.1 1424.8,2522.4 1419.3,2523.1 1416.5,2517.8" fill="#fde89c"/><polygon points="1341.6,2531.7 1346.3,2526.7 1351.2,2530.5 1347.0,2537.2" fill="#bcbcbc"/><polygon points="1417.2,2538.0 1415.4,2542.6 1408.7,2541.3 1411.0,2535.0" fill="#c2c2c2"/><polygon points="1378.1,2543.9 1378.0,2551.1 1371.3,2548.2 1373.9,2542.5" fill="#c2c2c2"/><polygon points="1351.1,2534.8 1352.1,2539.4 1343.6,2540.2 1344.6,2531.9" fill="#fde89c"/><polygon points="1446.6,2527.9 1448.8,2522.4 1453.6,2526.1 1451.3,2530.2" fill="#fde89c"/><polygon points="1367.1,2523.1 1368.4,2517.2 1374.7,2519.1 1372.9,2524.9" fill="#bcbcbc"/><polygon points="1437.4,2583.6 1433.9,2580.9 1436.9,2573.1 1441.1,2575.7" fill="#bcbcbc"/><polygon points="1421.8,2547.9 1428.0,2548.1 1428.5,2554.4 1421.4,2553.5" fill="#fde89c"/><polygon points="1432.7,2496.8 1431.0,2501.9 1424.1,2499.7 1426.3,2492.5" fill="#fde89c"/><polygon points="1395.0,2521.0 1396.6,2514.7 1402.5,2513.0 1401.7,2520.6" fill="#bcbcbc"/><polygon points="1414.0,2493.0 1415.3,2487.8 1421.6,2489.5 1418.9,2494.8" fill="#bcbcbc"/><polygon points="1367.3,2516.8 1361.8,2519.8 1359.7,2513.3 1363.0,2510.0" fill="#fde89c"/><polygon points="1435.5,2591.3 1441.7,2592.6 1439.2,2599.6 1433.7,2596.5" fill="#bcbcbc"/><polygon points="1433.2,2502.3 1434.8,2496.7 1441.3,2500.0 1439.6,2506.0" fill="#fde89c"/><polygon points="1409.8,2510.0 1416.1,2510.8 1416.3,2514.3 1410.8,2516.8" fill="#bcbcbc"/><polygon points="1394.6,2513.1 1389.6,2517.9 1386.4,2511.7 1390.4,2509.1" fill="#fbd2c4"/><polygon points="1421.3,2584.1 1425.3,2578.8 1429.9,2583.8 1426.4,2589.1" fill="#fde89c"/><polygon points="1442.8,2584.6 1439.8,2576.9 1445.5,2574.8 1447.8,2581.6" fill="#bcbcbc"/><polygon points="1437.3,2546.1 1434.0,2550.7 1427.1,2546.2 1434.5,2541.6" fill="#bcbcbc"/><polygon points="1410.2,2516.9 1417.0,2514.2 1420.1,2518.8 1413.2,2520.6" fill="#bcbcbc"/><polygon points="1385.4,2557.0 1391.1,2563.6 1387.3,2567.7 1382.0,2561.7" fill="#bcbcbc"/><polygon points="1384.0,2511.0 1388.2,2506.9 1392.0,2512.1 1384.7,2515.2" fill="#fbd2c4"/><polygon points="1421.7,2522.5 1428.7,2522.7 1427.9,2528.9 1423.9,2529.0" fill="#bcbcbc"/><polygon points="1431.9,2573.3 1434.4,2577.7 1430.4,2582.1 1426.7,2577.2" fill="#bcbcbc"/><polygon points="1434.6,2550.1 1431.8,2545.5 1436.6,2542.2 1440.6,2547.1" fill="#bcbcbc"/><polygon points="1424.7,2550.5 1422.1,2546.3 1425.3,2540.6 1430.0,2545.6" fill="#fde89c"/><polygon points="1446.9,2511.1 1446.7,2504.4 1451.7,2506.3 1452.5,2512.8" fill="#bcbcbc"/><polygon points="1421.5,2493.4 1415.7,2487.9 1419.3,2484.0 1424.9,2486.4" fill="#fbd2c4"/><polygon points="1380.3,2516.7 1387.5,2519.2 1384.9,2526.3 1378.0,2523.1" fill="#c2c2c2"/><polygon points="1451.6,2579.3 1457.2,2579.6 1459.0,2583.9 1454.3,2586.3" fill="#c2c2c2"/><polygon points="1335.1,2547.9 1334.2,2542.9 1338.3,2538.8 1342.8,2543.8" fill="#fde89c"/><polygon points="1450.3,2558.0 1456.4,2557.5 1455.4,2565.4 1449.3,2564.5" fill="#c2c2c2"/><polygon points="1381.8,2516.6 1385.7,2510.0 1391.2,2514.7 1388.4,2519.4" fill="#fbd2c4"/><polygon points="1369.2,2516.9 1363.5,2513.4 1366.7,2507.9 1372.0,2512.5" fill="#bcbcbc"/><polygon points="1405.2,2590.6 1402.7,2583.6 1410.4,2581.6 1410.9,2589.6" fill="#fbd2c4"/><polygon points="1352.9,2554.8 1356.8,2560.2 1350.4,2563.5 1347.1,2557.7" fill="#c2c2c2"/><polygon points="1462.0,2574.5 1457.7,2579.0 1451.6,2574.0 1454.8,2569.2" fill="#bcbcbc"/><polygon points="1386.8,2546.5 1381.9,2541.5 1386.2,2536.2 1391.0,2540.8" fill="#bcbcbc"/><polygon points="1436.8,2591.5 1432.1,2591.4 1431.9,2584.8 1437.5,2583.1" fill="#fbd2c4"/><polygon points="1365.0,2563.0 1370.8,2558.9 1373.9,2561.5 1370.6,2567.0" fill="#bcbcbc"/><polygon points="1422.2,2494.7 1428.5,2495.7 1423.3,2501.1 1420.7,2498.7" fill="#bcbcbc"/><polygon points="1409.9,2543.4 1403.0,2544.6 1401.3,2539.0 1405.7,2536.7" fill="#bcbcbc"/><polygon points="1423.4,2503.9 1428.8,2507.7 1422.5,2511.9 1419.1,2507.3" fill="#bcbcbc"/><polygon points="1349.2,2563.1 1345.7,2557.2 1350.5,2556.3 1353.8,2562.3" fill="#bcbcbc"/><polygon points="1402.9,2548.8 1408.1,2545.2 1412.1,2553.9 1405.8,2556.0" fill="#bcbcbc"/><polygon points="1434.7,2500.8 1431.6,2505.2 1426.8,2503.4 1428.0,2497.2" fill="#bcbcbc"/><polygon points="1437.6,2509.8 1440.6,2516.1 1433.3,2518.8 1430.2,2513.7" fill="#bcbcbc"/><polygon points="1388.3,2567.9 1388.7,2572.1 1381.5,2571.7 1381.4,2565.5" fill="#bcbcbc"/><polygon points="1414.7,2540.7 1412.5,2537.5 1417.8,2533.6 1420.8,2538.7" fill="#bcbcbc"/><polygon points="1426.2,2505.4 1421.3,2505.9 1421.2,2500.4 1429.0,2501.0" fill="#bcbcbc"/><polygon points="1407.5,2553.9 1408.9,2549.1 1414.4,2551.1 1413.1,2558.9" fill="#bcbcbc"/><polygon points="1369.5,2504.2 1376.0,2497.9 1379.2,2502.6 1374.3,2507.6" fill="#bcbcbc"/><polygon points="1432.4,2530.4 1429.9,2538.0 1423.9,2536.4 1426.7,2530.1" fill="#fde89c"/><polygon points="1452.4,2548.3 1456.8,2543.5 1462.4,2545.1 1457.6,2551.0" fill="#c2c2c2"/><polygon points="1401.2,2508.8 1400.1,2512.3 1394.7,2512.1 1395.6,2507.2" fill="#fbd2c4"/><polygon points="1372.0,2547.2 1375.4,2542.3 1380.6,2545.1 1378.6,2550.8" fill="#bcbcbc"/><polygon points="1392.6,2512.5 1398.7,2507.5 1402.8,2512.2 1398.7,2514.7" fill="#fbd2c4"/><polygon points="1362.9,2521.4 1355.1,2518.5 1356.5,2512.3 1364.2,2513.8" fill="#c2c2c2"/><polygon points="1447.8,2569.7 1453.8,2568.3 1455.6,2575.7 1449.2,2575.7" fill="#bcbcbc"/><polygon points="1358.5,2556.6 1350.5,2556.3 1348.9,2550.5 1357.8,2550.7" fill="#bcbcbc"/><polygon points="1382.0,2522.6 1375.3,2521.3 1378.1,2516.2 1382.6,2517.5" fill="#c2c2c2"/><polygon points="1395.8,2531.2 1402.8,2528.0 1404.5,2535.6 1397.9,2536.0" fill="#c2c2c2"/><polygon points="1429.7,2553.5 1436.5,2553.4 1436.3,2559.6 1430.1,2560.5" fill="#c2c2c2"/><polygon points="1407.5,2593.1 1410.7,2585.4 1415.0,2588.5 1412.6,2593.4" fill="#c2c2c2"/><polygon points="1375.8,2523.8 1384.0,2523.7 1383.0,2529.8 1379.2,2531.1" fill="#fde89c"/><polygon points="1396.6,2536.1 1403.4,2538.7 1402.9,2544.7 1395.6,2544.9" fill="#fde89c"/><polygon points="1341.6,2534.8 1343.5,2540.1 1337.1,2542.7 1333.9,2538.9" fill="#c2c2c2"/><polygon points="1425.1,2575.5 1430.2,2578.7 1429.0,2582.8 1421.7,2583.1" fill="#bcbcbc"/><polygon points="1386.3,2545.5 1390.3,2552.0 1387.1,2556.2 1383.0,2550.6" fill="#bcbcbc"/><polygon points="1376.2,2514.1 1376.1,2507.3 1383.2,2508.3 1382.6,2514.9" fill="#fde89c"/><polygon points="1405.9,2531.3 1402.5,2535.4 1399.0,2531.7 1402.2,2527.4" fill="#fde89c"/><polygon points="1375.5,2561.6 1366.7,2562.4 1366.6,2557.0 1372.1,2555.0" fill="#c2c2c2"/><polygon points="1378.9,2542.1 1373.8,2547.5 1370.8,2543.7 1374.4,2537.4" fill="#fde89c"/><polygon points="1436.3,2530.4 1438.6,2525.6 1443.5,2527.0 1441.1,2532.2" fill="#fde89c"/><polygon points="1339.9,2529.7 1339.8,2523.9 1346.4,2523.3 1348.3,2529.2" fill="#bcbcbc"/><path d="M1381.9,2510.5L1376.7,2512.1M1447.3,2505.1L1444.6,2508.2M1436.5,2522.5L1432.8,2525.0M1413.8,2581.7L1408.9,2583.5M1408.3,2490.2L1409.6,2494.5M1371.8,2515.4L1367.0,2516.4M1350.6,2521.0L1347.6,2525.4M1424.6,2504.1L1423.9,2509.7M1397.1,2519.9L1395.1,2525.3M1440.9,2500.8L1445.8,2503.0M1423.0,2578.9L1423.9,2584.6M1432.7,2585.4L1428.2,2586.8M1446.0,2568.4L1443.5,2572.5M1422.8,2561.5L1427.8,2564.3M1340.9,2519.5L1345.8,2522.8M1350.7,2512.0L1352.1,2517.6M1426.5,2540.0L1427.5,2545.5M1401.0,2538.3L1400.2,2544.0M1433.9,2520.5L1439.4,2521.8M1421.9,2526.1L1417.9,2529.7M1392.2,2552.0L1392.8,2557.5M1396.6,2558.1L1398.5,2562.5M1439.3,2510.7L1442.2,2514.0M1355.0,2530.2L1354.6,2534.9M1415.6,2564.1L1415.5,2568.4M1352.0,2539.8L1352.1,2544.7M1369.3,2509.6L1374.1,2513.1M1447.9,2571.7L1449.7,2575.6M1439.5,2579.8L1437.9,2585.2M1381.7,2500.6L1377.1,2503.2M1368.3,2549.6L1370.8,2552.9M1402.6,2495.4L1407.7,2497.8M1427.8,2552.7L1426.1,2557.0M1390.0,2576.7L1387.9,2581.4M1395.5,2565.1L1397.3,2569.2M1420.0,2512.0L1416.6,2516.7M1341.0,2547.0L1339.8,2552.7M1429.6,2517.8L1435.4,2519.0M1378.2,2523.3L1383.2,2526.5M1421.2,2495.8L1422.2,2500.0M1405.8,2533.6L1403.9,2537.3M1428.5,2556.7L1423.2,2558.9M1358.2,2513.1L1362.4,2516.1M1389.8,2578.2L1388.2,2583.5M1451.8,2518.5L1456.2,2521.9M1385.2,2497.2L1389.1,2500.6M1447.8,2575.5L1445.9,2579.2M1358.3,2528.5L1361.4,2532.0M1362.3,2528.7L1358.3,2530.8M1428.7,2543.7L1430.8,2548.6M1456.9,2531.1L1460.1,2534.1M1394.3,2507.2L1390.3,2509.0M1424.2,2555.0L1422.9,2560.0M1398.9,2572.5L1401.8,2575.3M1424.2,2541.9L1424.8,2546.0M1407.8,2495.7L1406.0,2499.4M1424.7,2509.0L1420.4,2510.0M1457.1,2550.7L1453.2,2552.1M1350.5,2540.9L1353.6,2544.3M1438.8,2519.9L1443.0,2521.3M1429.2,2508.4L1424.5,2511.8M1423.9,2524.3L1420.5,2529.0M1422.1,2493.4L1424.6,2497.9M1369.7,2544.7L1365.9,2547.9M1438.5,2512.1L1443.3,2514.4M1426.0,2502.8L1420.9,2504.4M1346.8,2540.2L1342.2,2542.7M1351.5,2537.4L1349.2,2541.7M1409.5,2547.3L1411.8,2550.7M1405.8,2565.2L1409.3,2569.5M1409.5,2555.2L1410.4,2560.3M1398.8,2563.3L1396.9,2568.8M1421.3,2536.6L1420.3,2542.4M1434.4,2596.4L1436.9,2600.8M1384.6,2566.8L1386.8,2571.6M1433.9,2579.2L1431.8,2584.1M1421.4,2528.1L1421.5,2533.8M1372.1,2560.4L1376.1,2561.9M1354.8,2559.3L1359.0,2561.5M1373.6,2561.6L1373.6,2567.5M1418.9,2565.3L1419.6,2569.9M1420.4,2494.2L1423.9,2498.3M1369.6,2516.7L1365.9,2518.9M1393.0,2569.8L1398.3,2571.6M1396.1,2559.7L1393.9,2563.9M1365.2,2514.4L1366.5,2518.7M1412.6,2576.3L1415.9,2580.6M1420.7,2573.0L1418.5,2577.3M1387.5,2528.6L1385.0,2531.6M1368.5,2541.8L1364.5,2543.6M1454.1,2542.9L1449.8,2544.1M1413.3,2493.5L1417.3,2496.4M1392.2,2567.1L1396.6,2568.4M1435.6,2491.3L1437.4,2494.9M1409.9,2516.4L1410.3,2520.5M1404.8,2515.7L1400.4,2517.5M1388.6,2527.9L1391.2,2533.3M1446.2,2545.4L1450.3,2549.6M1436.8,2595.4L1441.2,2597.4M1396.7,2530.2L1394.7,2535.5M1460.0,2542.6L1455.2,2544.4M1440.7,2553.4L1436.5,2555.1M1359.0,2510.9L1354.5,2513.2M1417.3,2589.8L1412.4,2590.8M1440.0,2509.6L1436.6,2512.5M1446.8,2530.8L1451.5,2533.0M1363.2,2550.1L1364.5,2554.7M1433.2,2570.7L1431.8,2574.9M1456.9,2559.2L1458.7,2562.9M1445.8,2568.9L1444.7,2574.2M1367.9,2504.3L1366.0,2508.3M1387.3,2506.1L1392.8,2507.6M1417.4,2489.2L1414.3,2493.4M1407.1,2561.5L1404.8,2565.9M1442.3,2597.1L1438.7,2599.1M1362.0,2506.6L1360.6,2511.5M1359.9,2515.9L1358.8,2519.9M1411.4,2570.0L1410.6,2574.7M1445.5,2521.7L1446.3,2525.8M1433.1,2533.0L1433.2,2537.1M1357.0,2561.7L1362.5,2563.9M1427.4,2520.8L1429.2,2525.4M1364.8,2564.4L1365.9,2568.6M1410.7,2580.8L1410.6,2584.9M1436.6,2522.8L1432.2,2524.3M1457.3,2578.3L1457.3,2583.3M1421.0,2491.7L1425.6,2493.3M1404.7,2535.2L1409.1,2536.4M1351.3,2524.2L1355.1,2528.1M1350.3,2550.9L1350.1,2556.0M1386.8,2529.5L1383.0,2533.2M1443.7,2556.2L1446.6,2559.0M1453.5,2560.3L1457.8,2561.5M1409.1,2562.6L1411.6,2566.5M1414.9,2523.5L1417.5,2528.5M1455.9,2585.7L1453.7,2589.1M1455.2,2578.0L1458.0,2582.2M1380.2,2547.5L1378.9,2551.9M1421.4,2595.0L1417.3,2599.1M1411.6,2574.4L1412.0,2579.6M1376.7,2575.3L1379.4,2580.3M1400.3,2563.4L1395.8,2566.5M1437.7,2565.7L1433.9,2567.1M1376.4,2553.5L1373.1,2557.3M1405.3,2527.4L1401.9,2530.8M1455.7,2556.0L1455.1,2560.1M1385.8,2500.5L1389.2,2503.2M1358.7,2547.8L1353.7,2550.7M1441.6,2534.6L1439.1,2538.3M1441.2,2524.1L1444.2,2528.0M1439.6,2585.4L1442.1,2589.2M1381.7,2561.5L1386.4,2563.0M1404.4,2525.6L1399.7,2527.7M1395.8,2526.4L1391.9,2527.9M1399.7,2506.2L1398.6,2511.4M1344.1,2545.7L1346.2,2550.0M1372.3,2524.5L1367.5,2526.1M1441.8,2568.9L1438.6,2572.7M1409.1,2548.5L1414.2,2550.4M1365.9,2542.5L1361.0,2544.4M1454.5,2557.4L1459.8,2558.7M1456.1,2554.9L1459.1,2558.5M1438.1,2507.0L1441.8,2509.8M1432.1,2569.0L1428.3,2572.7M1433.3,2589.8L1431.0,2595.3M1442.5,2592.6L1439.7,2596.3M1422.9,2587.5L1425.9,2592.4M1421.6,2527.0L1419.6,2531.5M1410.0,2512.9L1413.1,2515.8M1363.8,2565.5L1365.7,2571.0M1422.8,2492.8L1420.9,2497.7M1424.5,2597.0L1426.4,2600.5M1384.7,2553.5L1388.6,2555.8M1346.9,2523.2L1345.4,2528.1M1417.3,2555.8L1420.2,2558.6M1421.7,2559.5L1420.0,2564.1M1346.3,2526.9L1349.6,2530.5M1380.8,2498.0L1382.9,2503.4M1370.2,2557.1L1366.2,2559.2M1420.5,2496.6L1418.1,2500.2M1439.4,2553.6L1442.3,2556.9M1389.8,2534.5L1394.5,2536.5M1438.3,2529.4L1440.1,2534.6M1461.1,2531.7L1457.0,2535.7M1370.9,2514.4L1369.0,2518.3M1442.3,2591.1L1438.5,2592.8M1418.9,2511.6L1421.3,2515.4M1432.2,2559.0L1430.2,2564.3M1377.5,2509.9L1376.8,2514.1M1387.9,2564.3L1386.6,2569.5M1411.6,2590.7L1407.6,2592.9M1360.8,2539.3L1363.8,2543.5M1363.3,2541.9L1368.3,2544.3M1420.9,2533.0L1420.0,2537.3M1368.7,2563.7L1365.3,2565.9M1356.5,2541.8L1355.1,2546.7M1367.1,2525.7L1365.5,2530.9M1416.3,2559.0L1416.8,2563.9M1455.0,2580.2L1458.8,2583.3M1393.9,2563.3L1397.0,2567.4M1438.8,2545.6L1436.9,2551.1M1348.5,2554.0L1346.2,2558.2M1444.6,2547.5L1448.5,2551.1M1378.5,2559.3L1380.5,2564.8M1365.0,2509.6L1365.7,2515.3M1417.1,2539.3L1421.7,2541.6M1428.8,2588.3L1424.5,2590.2M1419.1,2524.6L1420.2,2529.7M1404.1,2519.2L1404.8,2523.7M1388.1,2504.0L1389.0,2509.7M1351.9,2511.5L1351.4,2516.2M1390.5,2514.7L1385.4,2516.3M1460.0,2565.5L1456.5,2567.8M1407.1,2490.9L1409.9,2494.0M1418.7,2516.7L1420.6,2522.2M1451.4,2571.1L1450.6,2575.3M1378.1,2502.7L1373.7,2503.8M1378.4,2529.9L1373.3,2532.1M1442.4,2594.1L1446.3,2597.3M1374.4,2530.9L1370.3,2535.2M1387.6,2497.8L1388.1,2502.1M1341.1,2531.8L1335.6,2534.1M1444.7,2508.8L1440.6,2511.8M1403.5,2514.4L1407.4,2517.6M1449.4,2553.8L1452.1,2557.3M1425.1,2589.5L1421.0,2591.1M1337.1,2543.0L1340.1,2546.4M1395.0,2504.3L1399.1,2506.1M1411.4,2510.4L1416.0,2512.6M1446.2,2579.0L1442.8,2582.5M1453.8,2578.1L1457.7,2580.4M1392.7,2549.1L1395.8,2553.4M1352.2,2514.7L1350.3,2518.3M1385.1,2551.6L1381.0,2552.8M1456.7,2552.6L1454.8,2557.7M1418.6,2546.0L1415.2,2549.6M1428.7,2597.7L1424.4,2601.7M1441.1,2516.6L1441.4,2521.0M1408.6,2576.9L1408.6,2580.9M1431.7,2548.5L1434.9,2552.2M1397.4,2518.0L1397.2,2522.9M1416.9,2574.3L1414.8,2578.0M1375.1,2558.3L1379.2,2561.6M1400.3,2500.5L1398.8,2504.9M1372.6,2515.8L1374.9,2519.3M1346.1,2518.4L1350.5,2521.0M1452.0,2580.1L1448.4,2584.6M1415.5,2582.5L1412.3,2586.2M1445.4,2573.1L1440.4,2576.3M1435.6,2493.3L1439.2,2495.7M1409.8,2557.8L1408.6,2561.8M1376.1,2530.8L1376.2,2535.6M1379.2,2559.8L1376.8,2564.8M1356.1,2519.5L1354.1,2523.9M1395.0,2547.1L1393.6,2552.1M1406.5,2541.5L1402.3,2542.9M1419.7,2556.9L1420.0,2562.2M1392.9,2568.0L1388.6,2570.6M1410.0,2559.8L1411.7,2564.3M1406.1,2523.6L1402.3,2524.8" stroke="#1e1e1e" stroke-width="1.5" fill="none"/>
<text x="57.50" y="2651.90" font-size="30" textLength="163.63" lengthAdjust="spacingAndGlyphs">Grain coats</text>
<text x="318.88" y="2647.30" font-size="30" textLength="86.66" lengthAdjust="spacingAndGlyphs">Ooids</text>
<text x="532.04" y="2650.70" font-size="30" textLength="130.62" lengthAdjust="spacingAndGlyphs">Perthites</text>
<text x="533.32" y="2692.20" font-size="30" textLength="124.02" lengthAdjust="spacingAndGlyphs">(altered)</text>
<text x="716.53" y="2650.70" font-size="30" textLength="163.97" lengthAdjust="spacingAndGlyphs">Plagioclase</text>
<text x="717.76" y="2692.20" font-size="30" textLength="76.59" lengthAdjust="spacingAndGlyphs">grain</text>
<text x="922.03" y="2653.20" font-size="30" textLength="131.24" lengthAdjust="spacingAndGlyphs">Perthites</text>
<text x="923.25" y="2695.30" font-size="30" textLength="105.03" lengthAdjust="spacingAndGlyphs">(intact)</text>
<text x="1116.30" y="2653.20" font-size="30" textLength="147.83" lengthAdjust="spacingAndGlyphs">K-feldspar</text>
<text x="1117.56" y="2695.30" font-size="30" textLength="76.90" lengthAdjust="spacingAndGlyphs">grain</text>
<text x="1320.69" y="2650.60" font-size="30" textLength="81.53" lengthAdjust="spacingAndGlyphs">Lithic</text>
<text x="1322.38" y="2692.30" font-size="30" textLength="149.00" lengthAdjust="spacingAndGlyphs">fragments</text>
<text x="63.76" y="2802.30" font-size="42" textLength="246.06" lengthAdjust="spacingAndGlyphs">Clay fraction</text>
<path d="M355.6,2953.3L353.4,2962.0M366.5,2971.6L361.5,2979.1M414.0,2877.1L420.9,2882.1M434.4,2847.6L430.2,2854.3M371.1,2843.4L363.0,2849.2M482.7,2942.3L489.1,2947.6M419.3,2856.2L412.8,2861.7M406.5,2929.7L409.1,2938.2M486.2,2876.0L482.2,2882.8M464.4,2965.3L462.9,2975.1M348.9,2917.8L344.4,2924.1M399.4,2897.6L400.2,2906.1M505.2,2903.2L510.9,2907.8M416.2,2918.6L415.3,2928.5M365.6,2939.0L364.6,2948.4M355.9,2863.1L358.9,2873.4M386.8,2938.3L389.5,2945.2M338.3,2975.3L334.0,2982.6M454.1,2951.3L446.7,2959.2M402.9,3006.1L395.7,3012.1M486.5,2919.6L488.3,2927.3M469.3,2919.2L465.0,2925.0M371.1,2885.1L372.3,2892.7M340.6,2893.2L333.1,2901.1M370.9,2999.0L370.4,3008.9M482.2,2972.3L476.0,2979.3M447.1,3000.2L454.5,3006.0M443.8,2981.5L442.5,2989.5M489.0,2859.3L494.1,2864.6M325.4,2911.8L332.0,2919.9M445.5,2856.6L444.9,2864.9M394.2,2957.5L393.6,2964.7M369.5,2955.5L372.0,2962.2M437.6,2921.5L432.9,2931.3M417.5,2932.0L425.1,2938.9M443.4,2910.9L443.1,2919.4M395.0,2874.9L401.6,2880.6M396.6,2917.5L394.0,2928.0M418.4,2958.6L411.6,2966.1M441.6,2964.5L438.3,2974.4M396.7,2860.4L396.0,2867.7M452.8,2869.8L455.7,2879.0M497.6,2889.8L502.3,2899.0M378.6,2901.2L372.0,2907.2M375.0,2865.0L376.8,2872.9M493.4,2957.4L500.5,2962.9M332.7,2939.9L329.8,2947.2M407.1,2989.2L408.9,2996.5M359.1,2904.4L358.3,2912.2M470.2,2893.3L473.8,2900.9M356.9,2980.9L351.0,2989.8M468.2,2989.0L467.5,2999.6M511.1,2930.1L506.2,2938.7M484.2,2898.3L490.4,2904.4M359.4,2928.4L354.6,2935.3M346.0,2875.6L347.4,2885.0M398.3,2835.2L395.4,2844.1M428.5,3007.3L432.8,3013.9M392.5,2976.7L392.5,2985.6M477.9,2989.3L483.8,2995.0M448.2,2886.5L452.2,2893.2M447.1,2838.4L443.2,2846.9M463.3,2943.8L464.0,2952.9M430.9,2974.9L430.5,2984.5M381.5,2991.2L384.2,3001.0M433.9,2867.8L428.6,2872.9M504.3,2968.3L500.6,2976.7M424.5,2897.8L429.4,2905.3M332.6,2872.7L327.2,2879.0M457.5,2924.4L450.1,2930.4M454.7,2905.3L456.7,2915.0M473.2,2864.3L471.9,2873.4M467.7,2852.9L461.8,2858.6M339.5,2956.6L339.8,2967.2M360.4,2886.8L356.6,2893.8M390.1,2885.2L384.3,2893.0M372.8,2983.3L370.3,2992.4M382.1,2851.7L384.0,2861.2M436.8,2937.7L432.8,2946.0M412.5,2900.8L415.0,2908.9M432.3,2881.9L430.6,2888.9M371.7,2917.5L369.1,2927.6M413.7,2973.3L413.5,2984.2M485.7,2958.3L482.7,2968.1M480.8,2846.8L483.2,2855.9M427.1,2947.6L420.4,2955.3M415.1,2838.9L414.0,2849.3M417.5,2999.0L415.8,3009.0M498.3,2876.7L498.1,2885.4M343.1,2939.8L347.7,2945.6M435.6,2996.0L441.4,3000.5M505.6,2915.0L503.6,2925.0M475.9,2905.3L476.7,2915.4M353.6,2844.6L355.5,2855.1M468.3,2932.3L473.3,2939.9" stroke="#3db536" stroke-width="2.5" fill="none"/>
<path d="M761.6,2870.1L766.0,2875.8M687.0,2867.5L685.9,2872.7M758.5,2883.8L755.4,2888.0M729.0,2982.0L727.2,2988.7M740.4,2857.3L737.3,2862.5M700.5,2877.3L697.6,2882.7M763.6,2960.5L760.0,2965.3M736.7,2936.6L739.0,2943.3M701.1,2961.4L697.4,2966.4M682.8,2967.8L681.7,2972.6M670.8,2925.7L675.0,2931.3M718.2,2923.4L719.0,2929.6M759.1,2893.7L760.2,2899.6M697.9,2934.8L697.6,2940.4M733.4,2925.0L737.3,2931.0M703.1,2910.8L704.0,2917.8M762.9,2923.4L763.5,2928.0M757.7,2874.7L757.4,2880.0M699.9,2901.7L701.8,2905.8M722.1,2963.6L721.0,2968.4M710.7,2968.2L707.5,2973.0M752.8,2920.8L752.6,2926.8M767.0,2955.4L767.2,2961.8M733.6,2900.1L731.0,2906.3M684.9,2948.7L685.4,2953.8M671.7,2988.0L672.7,2992.6M690.8,2887.1L688.4,2891.3M695.5,2864.3L695.7,2869.3M704.3,2954.6L700.5,2960.1M672.9,2904.7L670.8,2908.6M687.8,2919.4L688.9,2925.8M738.9,2916.6L740.7,2921.3M736.2,2872.8L733.0,2878.1M728.3,2856.8L728.4,2861.2M745.3,2850.1L744.0,2857.1M720.7,2869.5L722.2,2876.2M704.5,2940.9L707.4,2946.9M756.7,2928.0L758.0,2934.6M718.5,2877.4L720.0,2882.1M739.2,2967.1L736.1,2971.0M709.6,2974.6L707.6,2979.7M683.8,2857.7L684.6,2862.7M718.4,2988.0L721.2,2993.3M754.6,2934.7L754.3,2941.2M749.1,2865.0L751.9,2869.0M759.5,2908.3L758.4,2914.7M703.1,2988.2L699.4,2993.4M694.1,2884.0L698.2,2889.7M697.2,2854.1L698.4,2858.7M711.3,2897.6L713.8,2902.8M749.5,2893.1L749.1,2900.0M761.8,2903.4L766.0,2909.0M680.2,2884.6L681.4,2889.2M716.1,2964.5L716.1,2969.1M712.0,2940.0L715.8,2945.1M748.3,2945.7L749.3,2950.8M667.7,2862.1L670.3,2867.2M745.7,2880.7L745.9,2886.9M759.4,2933.7L760.7,2938.5M736.3,2982.8L737.5,2988.1M708.9,2980.0L708.3,2986.6M695.2,2974.0L693.2,2978.7M721.3,2946.8L720.7,2952.9M691.3,2928.4L692.7,2934.9M725.8,2883.0L726.3,2887.7M729.4,2894.5L727.6,2898.9M735.2,2952.2L736.9,2956.6M683.8,2984.2L683.8,2989.0M677.9,2903.2L678.1,2908.1M675.5,2921.5L677.4,2926.8M713.3,2949.5L712.8,2954.5M684.6,2973.0L687.4,2976.8M675.2,2966.8L674.8,2973.8M690.8,2964.8L691.4,2969.3M700.7,2929.5L704.0,2935.6M758.6,2948.6L758.3,2953.4M763.1,2980.9L763.5,2986.3M676.7,2938.5L674.1,2943.3M746.4,2874.1L748.3,2880.1M699.4,2968.7L699.7,2973.6M695.3,2957.7L692.8,2963.4M699.6,2944.7L697.8,2949.9M689.8,2877.5L690.6,2882.1M755.7,2955.0L760.0,2960.4M669.6,2871.0L671.4,2877.6M702.0,2866.3L704.0,2871.3M710.0,2871.8L708.9,2876.8M710.4,2959.2L711.5,2964.2M679.1,2891.8L681.4,2897.9M699.8,2906.7L697.1,2910.8M694.8,2987.3L691.9,2991.4M726.1,2865.6L726.8,2872.1M669.0,2951.8L667.3,2958.2M716.7,2916.5L716.6,2921.3M718.8,2884.8L720.0,2889.2M728.4,2946.3L726.8,2951.9M677.8,2865.5L677.8,2872.3M707.9,2886.0L706.2,2890.4M752.3,2972.8L753.6,2977.8M764.1,2888.7L767.7,2894.0M744.0,2955.0L744.1,2962.2M710.5,2862.4L711.7,2869.0M703.3,2918.5L703.4,2924.8M727.2,2934.6L728.1,2940.1M746.1,2903.2L742.7,2908.7M763.8,2950.6L763.2,2956.0M670.9,2943.9L668.7,2949.9M735.9,2889.4L736.9,2896.1M707.1,2917.3L709.9,2921.3M719.0,2857.8L721.5,2861.7M742.4,2988.1L740.4,2993.5M679.9,2962.3L682.2,2966.3M718.3,2972.2L720.0,2978.7M744.0,2973.2L739.8,2978.4M721.4,2952.8L723.6,2958.4M722.4,2900.8L724.4,2905.9M681.1,2907.1L680.9,2913.6M720.9,2863.1L721.1,2869.3M745.6,2914.3L747.4,2918.4M716.8,2957.0L719.8,2962.0M671.6,2894.0L668.7,2898.7M767.0,2967.3L766.4,2972.9M723.7,2969.9L724.8,2974.6M757.4,2939.9L758.3,2945.3M679.2,2930.9L677.0,2936.2M733.4,2959.8L731.5,2966.5M765.6,2880.5L765.7,2885.0M766.3,2865.1L766.9,2871.2M698.4,2913.5L697.4,2919.3M749.6,2977.7L746.6,2981.5M717.0,2867.1L715.5,2872.4M730.4,2909.6L728.3,2913.8M676.2,2947.9L677.6,2953.4M709.0,2989.6L707.8,2996.2M712.8,2890.7L712.6,2897.6M746.8,2856.1L747.9,2862.3M754.8,2899.6L755.0,2905.6M732.0,2941.3L730.4,2948.0M764.9,2991.0L768.2,2996.5M679.5,2979.8L676.4,2984.8M686.4,2932.5L683.1,2936.5M753.4,2956.9L751.1,2961.1M746.8,2960.9L748.1,2965.1M763.8,2860.0L765.8,2865.2M755.0,2982.3L751.7,2987.9M747.7,2926.5L751.7,2931.3M756.4,2857.8L760.4,2862.7M671.5,2960.7L673.8,2965.8M690.9,2914.6L693.7,2918.5M753.4,2990.3L753.8,2996.0" stroke="#3db536" stroke-width="2.6" fill="none"/>
<use href="#pick" transform="translate(578,2857.4) scale(0.882,0.891)" fill="#f3f1f1"/>
<use href="#pick" transform="translate(736.9,2858.7) scale(1.124,1.138)" fill="#f3f1f1"/>
<path d="M1055.0,2906.6L1054.7,2911.3M995.5,2909.2L998.2,2914.0M1072.0,2905.6L1071.9,2911.7M1083.4,2926.8L1081.7,2932.5M1079.6,2899.1L1078.8,2905.1M1038.2,2943.0L1037.3,2948.4M1060.7,2876.6L1063.6,2880.9M1085.8,2878.7L1088.8,2882.2M1051.3,2956.1L1052.9,2961.1M1012.2,2891.6L1009.5,2896.6M1084.0,2942.3L1081.3,2946.5M974.7,2906.0L979.5,2910.1M1070.4,2974.9L1066.9,2980.6M1038.9,2878.2L1034.2,2883.0M1045.9,2874.0L1045.5,2880.4M1007.5,2906.7L1003.9,2910.8M1087.9,2965.4L1086.1,2970.4M1070.1,2957.3L1068.9,2962.1M983.9,2932.2L985.6,2937.6M1091.8,2885.5L1088.5,2888.6M1049.2,2921.2L1051.8,2926.3M1038.1,2910.2L1036.4,2914.2M1021.7,2951.6L1025.6,2956.8M997.0,2938.9L1000.0,2943.4M1071.4,2913.3L1069.5,2918.7M1095.6,2915.6L1092.8,2920.9M1055.9,2890.0L1057.6,2894.9M1018.0,2901.3L1018.9,2907.6M1037.2,2922.9L1039.4,2927.5M1041.7,2867.5L1042.0,2872.1M1007.1,2898.7L1010.9,2903.9M1025.5,2938.8L1027.2,2943.1M1099.8,2935.1L1103.6,2940.6M1031.5,2892.8L1030.2,2898.4M1092.8,2907.6L1094.3,2913.4M1075.9,2968.6L1078.1,2974.8M989.2,2900.7L986.2,2906.3M1074.2,2948.3L1073.8,2953.2M1028.1,2883.9L1030.1,2889.6M1109.9,2920.4L1108.7,2925.7M1059.5,2968.9L1054.9,2972.8M1070.8,2937.4L1072.7,2941.8M1056.8,2861.2L1055.9,2866.7M977.0,2912.8L980.6,2917.5M1015.2,2930.9L1012.6,2936.2M1085.3,2891.4L1082.0,2894.4M1068.0,2867.6L1063.4,2872.5M1043.6,2886.6L1042.8,2893.4M1061.2,2962.8L1064.4,2968.1M1076.4,2862.8L1073.8,2866.9M1086.7,2948.0L1086.0,2953.8M1020.4,2925.7L1020.2,2932.3M981.7,2894.0L980.0,2899.6M1042.6,2954.4L1042.4,2960.0M1083.9,2958.2L1086.3,2963.6M986.9,2917.2L988.1,2921.9M991.9,2923.2L990.4,2929.2M1094.3,2951.1L1092.7,2955.4M1012.4,2918.9L1012.1,2925.6M1061.9,2930.4L1060.5,2936.9M1016.2,2873.6L1020.2,2876.9M1041.6,2897.6L1037.2,2902.1M1059.5,2882.7L1055.3,2886.2M1095.5,2884.5L1099.5,2888.9M1071.8,2885.6L1067.1,2890.4M1024.6,2893.3L1022.2,2897.4M987.4,2908.3L984.2,2912.5M1077.2,2930.9L1073.5,2936.0M1098.6,2946.7L1100.7,2951.9M1089.1,2921.4L1088.0,2925.8M1101.2,2959.6L1101.7,2964.5M1094.1,2925.5L1098.5,2930.7M1055.5,2948.7L1052.8,2953.0M1082.2,2868.2L1084.9,2872.8M1002.3,2883.5L1001.0,2888.4M1072.9,2893.4L1068.4,2897.3M1053.6,2940.5L1050.3,2944.2M1000.4,2897.4L1000.9,2904.0M1074.9,2876.9L1071.7,2882.2M1037.9,2934.2L1033.1,2938.7M1000.0,2923.3L1002.9,2928.1M1013.2,2882.5L1017.1,2887.3M1078.6,2954.6L1077.0,2958.8M1055.8,2899.0L1053.7,2903.5M1094.0,2936.0L1095.7,2942.6M1008.5,2937.9L1006.8,2944.1M1063.2,2917.8L1063.0,2923.2M1028.1,2906.8L1026.4,2912.0M1028.8,2957.0L1028.5,2962.4M988.7,2891.9L991.7,2895.2M1045.1,2895.3L1049.9,2899.9M1094.2,2894.2L1090.6,2898.4M1014.7,2907.6L1010.8,2912.1M1106.3,2927.5L1105.7,2933.5M1081.0,2914.3L1084.0,2918.4M1062.4,2902.9L1060.1,2908.1M1061.8,2940.0L1065.4,2943.4M1032.8,2960.4L1037.7,2964.5M1019.8,2945.3L1016.7,2950.4M993.1,2931.2L990.1,2936.0M1026.7,2874.3L1025.8,2879.0M1044.0,2915.5L1044.2,2919.9M1096.6,2898.6L1098.8,2903.7M1106.5,2944.9L1109.7,2949.0M1093.7,2961.4L1094.2,2966.8M1032.4,2917.4L1031.9,2924.1M1101.5,2905.0L1104.9,2908.5M1044.6,2938.3L1043.4,2944.6M1028.4,2899.6L1030.7,2905.7M978.4,2925.8L974.7,2931.2M1027.6,2926.4L1030.1,2930.4M993.9,2885.2L995.9,2891.5M1072.1,2923.6L1067.8,2928.8M1009.9,2877.1L1005.4,2881.5M1064.2,2949.7L1064.7,2954.7M1008.8,2946.0L1010.4,2951.2M1054.9,2868.9L1054.7,2874.3M1060.4,2924.4L1057.2,2928.9M1096.3,2876.8L1092.7,2881.4M1045.7,2945.2L1048.1,2950.8M1049.0,2929.5L1053.0,2934.5M1107.4,2911.5L1110.3,2916.6M1005.0,2915.2L1003.6,2919.8M1026.6,2946.0L1030.6,2950.6M1024.4,2920.0L1022.1,2924.6M1075.0,2961.5L1078.9,2966.7M1078.3,2920.1L1079.4,2924.8M1087.4,2930.5L1090.6,2934.6M1042.8,2927.8L1044.7,2932.8M1046.1,2903.9L1042.7,2909.7M1060.2,2909.8L1061.5,2915.4M1077.2,2883.5L1081.0,2888.2M1031.2,2867.4L1029.7,2873.9M1045.1,2966.0L1043.6,2970.4M981.1,2924.5L985.7,2928.6M1074.1,2869.8L1072.5,2875.2M1001.8,2932.2L1002.7,2937.6M1070.0,2859.4L1067.4,2863.6M1049.8,2913.4L1054.7,2917.8M1082.1,2974.0L1082.9,2979.4M1078.0,2906.3L1080.8,2912.4M1086.7,2901.4L1087.8,2906.4M1093.9,2968.3L1093.9,2974.2M1103.3,2913.5L1099.1,2918.7M1021.1,2912.3L1019.5,2917.9M1034.7,2951.5L1035.7,2956.8M1051.3,2883.6L1046.7,2888.0M1106.5,2953.0L1103.8,2956.8M1071.1,2968.4L1067.1,2972.0M1007.9,2926.7L1009.0,2931.6M994.5,2919.5L997.5,2922.9M1102.4,2891.2L1104.1,2896.2M1089.6,2942.1L1090.1,2947.2M1063.9,2889.4L1063.9,2895.4M1081.2,2874.8L1078.1,2878.0M1014.1,2938.2L1019.2,2942.6M1036.6,2886.2L1035.4,2891.4M1021.9,2879.8L1022.5,2885.2M1050.6,2863.7L1048.2,2869.1M990.4,2938.1L992.5,2943.4M1002.2,2891.1L1000.4,2896.1M1066.5,2900.3L1068.8,2904.7" stroke="#3db536" stroke-width="2.3" fill="none"/>
<text x="73.77" y="3073.20" font-size="30" textLength="157.38" lengthAdjust="spacingAndGlyphs">Ghost rims</text>
<text x="301.90" y="3073.00" font-size="30" textLength="218.21" lengthAdjust="spacingAndGlyphs">Disaggregated</text>
<text x="677.40" y="3072.00" font-size="30" textLength="102.73" lengthAdjust="spacingAndGlyphs">Porefill</text>
<text x="941.24" y="3072.00" font-size="30" textLength="222.74" lengthAdjust="spacingAndGlyphs">Pseudomorphs</text></svg>
</body></html>
